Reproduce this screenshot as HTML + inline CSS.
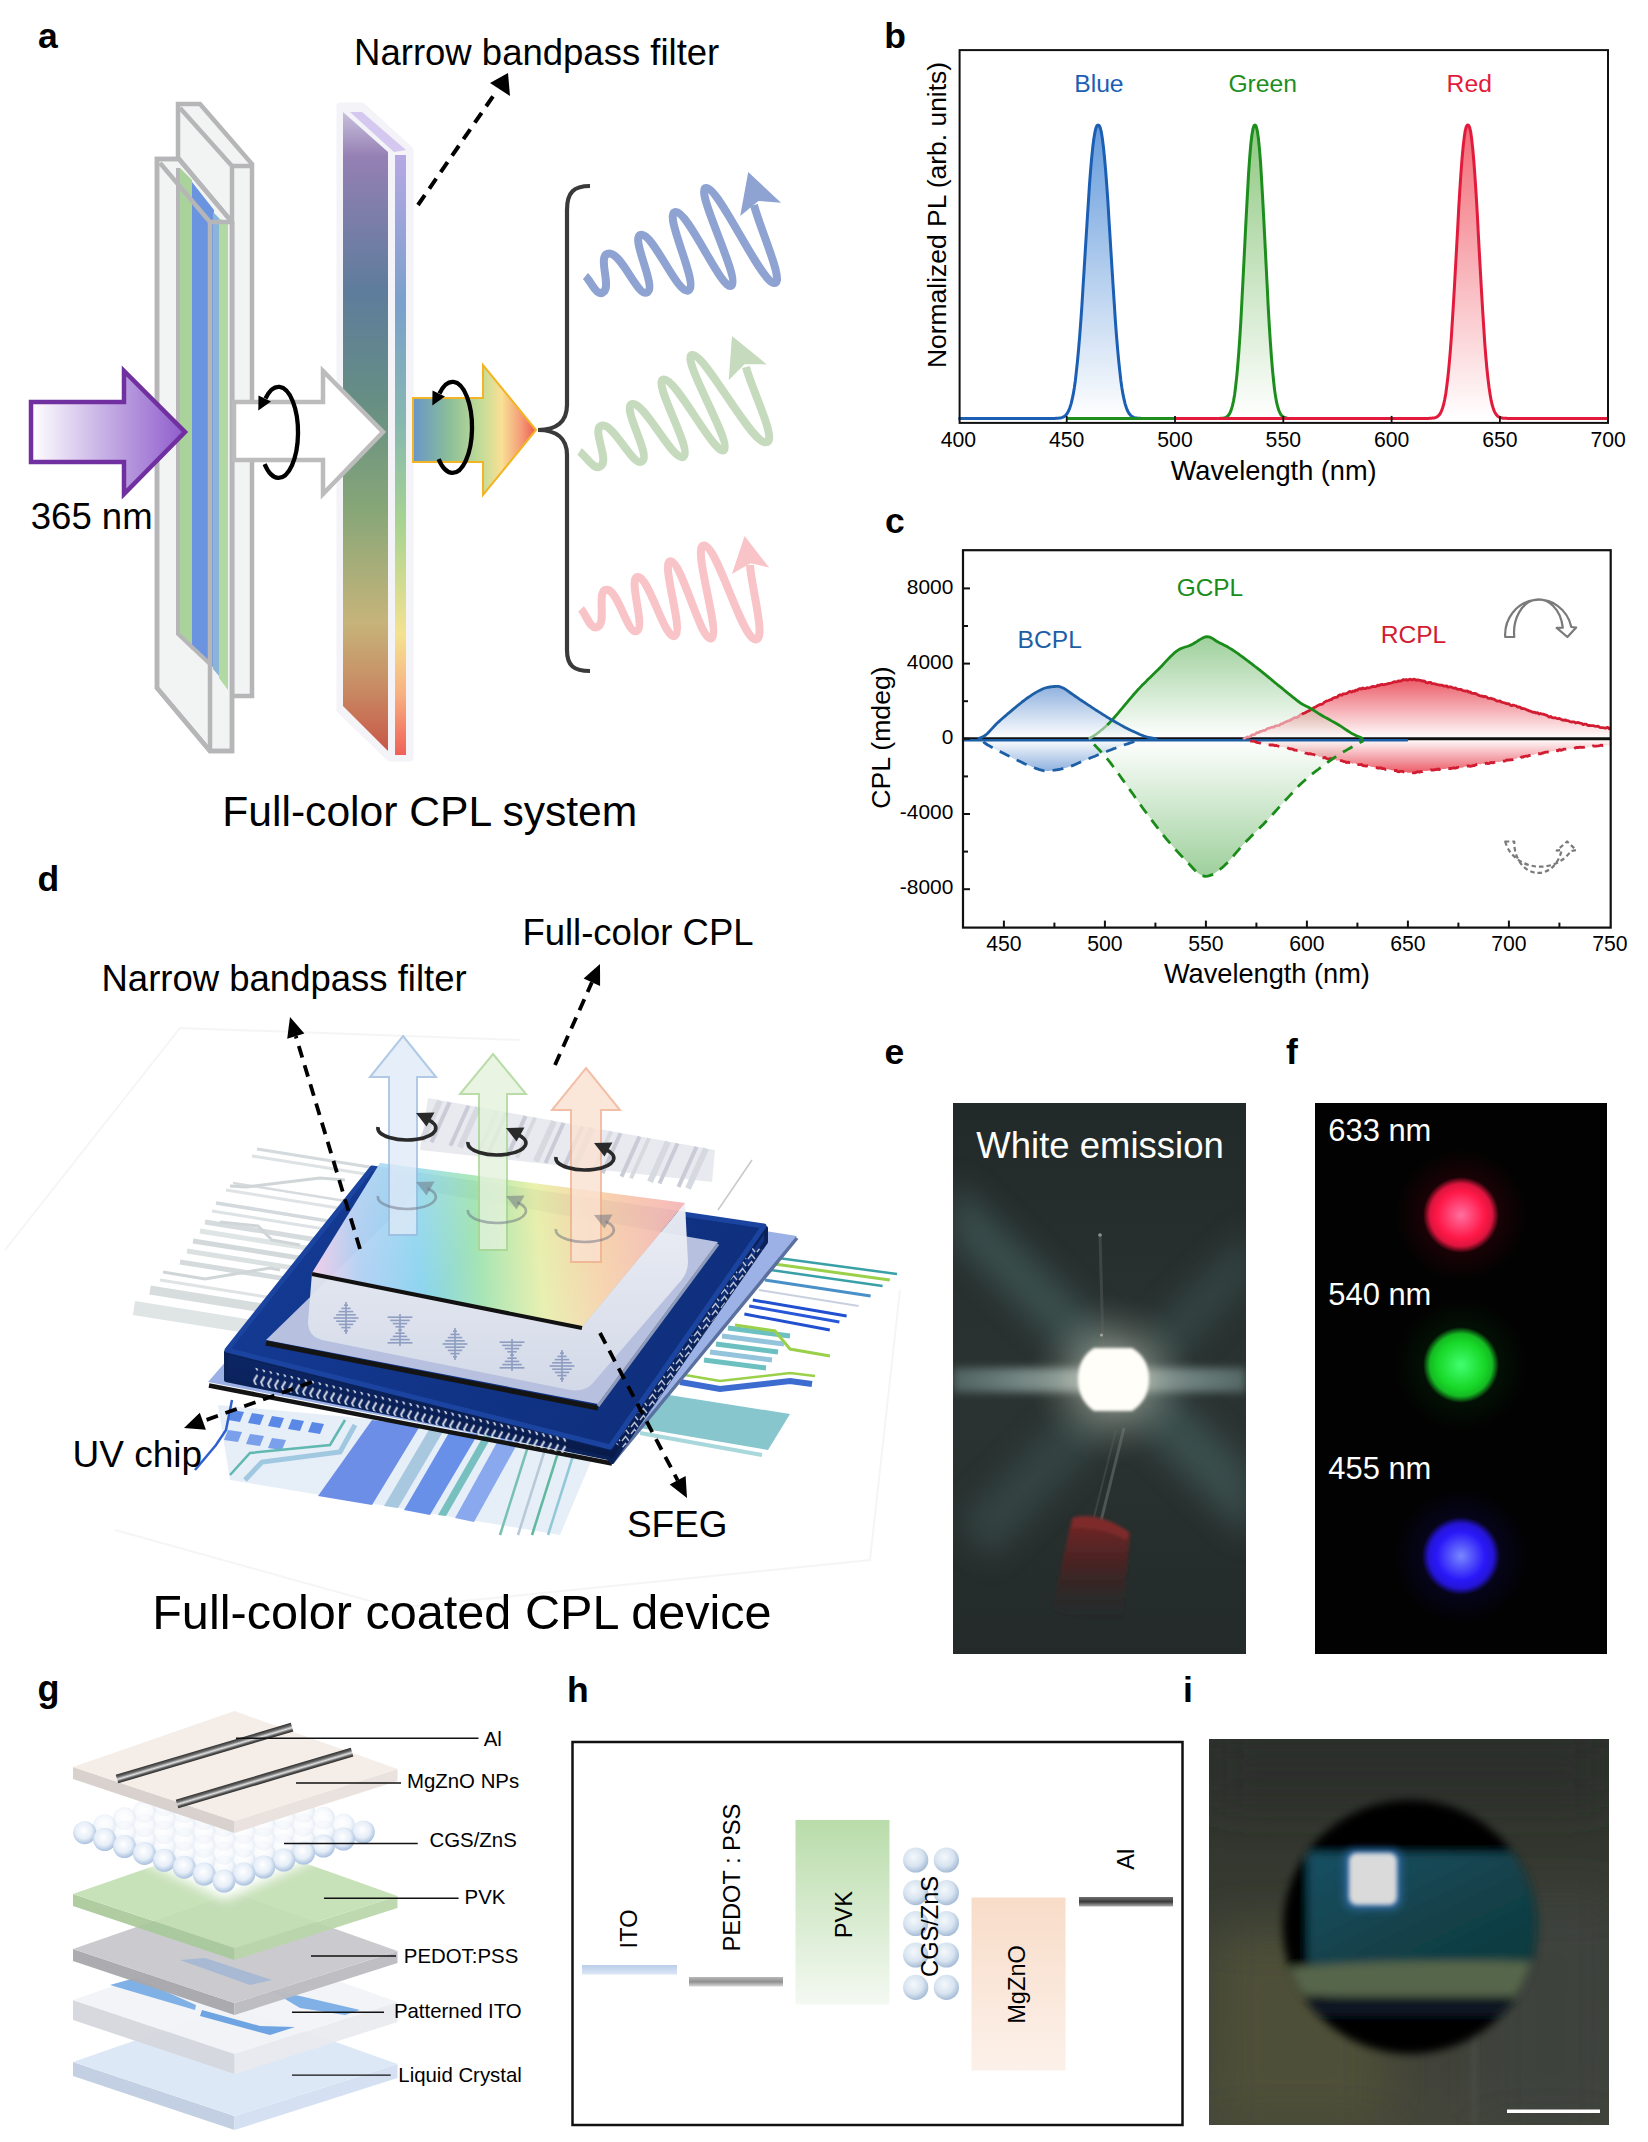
<!DOCTYPE html>
<html><head><meta charset="utf-8"><title>Full-color CPL figure</title>
<style>html,body{margin:0;padding:0;background:#fff;}svg{display:block;}
text{font-family:"Liberation Sans",Arial,sans-serif;}</style></head>
<body><svg width="1648" height="2142" viewBox="0 0 1648 2142">
<rect width="1648" height="2142" fill="#fff"/>
<defs><linearGradient id="purp" x1="0" y1="0" x2="1" y2="0"><stop offset="0" stop-color="#ffffff"/><stop offset="0.45" stop-color="#c9b4e6"/><stop offset="1" stop-color="#8f5ccc"/></linearGradient><linearGradient id="filt" gradientUnits="userSpaceOnUse" x1="0" y1="112" x2="0" y2="750"><stop offset="0" stop-color="#c8c0dc"/><stop offset="0.07" stop-color="#9580b4"/><stop offset="0.28" stop-color="#5e7c9c"/><stop offset="0.45" stop-color="#668e84"/><stop offset="0.62" stop-color="#86a678"/><stop offset="0.8" stop-color="#c6b47a"/><stop offset="0.9" stop-color="#c88c64"/><stop offset="1" stop-color="#c85848"/></linearGradient><linearGradient id="filt2" gradientUnits="userSpaceOnUse" x1="0" y1="150" x2="0" y2="755"><stop offset="0" stop-color="#b8a8e4"/><stop offset="0.25" stop-color="#7aa0cc"/><stop offset="0.45" stop-color="#86b8b0"/><stop offset="0.62" stop-color="#a8d490"/><stop offset="0.8" stop-color="#f4e290"/><stop offset="0.9" stop-color="#f8b080"/><stop offset="1" stop-color="#f06058"/></linearGradient><linearGradient id="carr" gradientUnits="userSpaceOnUse" x1="413" y1="0" x2="536" y2="0"><stop offset="0" stop-color="#6896c8"/><stop offset="0.3" stop-color="#8cbf98"/><stop offset="0.55" stop-color="#c2dc98"/><stop offset="0.72" stop-color="#f8e094"/><stop offset="0.88" stop-color="#f49c78"/><stop offset="1" stop-color="#ee5a50"/></linearGradient></defs><g stroke="#b6b6b8" stroke-width="4.5" stroke-linejoin="miter" fill="#f2f3f3">
<polygon points="178,104 200,104 252,164 252,696 232,696 178,636"/>
<polyline points="180,108 232,166 232,696" fill="none"/>
<line x1="232" y1="166" x2="250" y2="166"/>
</g>
<g stroke="#b6b6b8" stroke-width="4.5" fill="#f2f3f3">
<polygon points="157,159 179,159 232,222 232,751 210,751 157,688"/>
</g>
<polygon points="180,168 192,180 192,650 180,636" fill="#a9d39a"/>
<polygon points="192,182 214,210 214,668 192,648" fill="#6b94e0"/>
<polygon points="213,212 219,218 219,676 213,669" fill="#8ab4d8"/>
<polygon points="219,218 228,224 228,690 219,678" fill="#b2d9a4"/>
<polyline points="178,168 178,634 210,664" fill="none" stroke="#b6b6b8" stroke-width="4"/>
<g stroke="#b6b6b8" stroke-width="4.5" fill="none">
<polygon points="157,159 179,159 232,222 232,751 210,751 157,688"/>
<polyline points="160,163 210,222 210,751"/>
<line x1="210" y1="222" x2="231" y2="222"/>
</g>
<polygon points="31,402 124,402 124,371 185,432 124,494 124,462 31,462" fill="url(#purp)" stroke="#7030a0" stroke-width="4.5" stroke-linejoin="miter"/>
<polygon points="340,106 362,106 410,150 410,758 390,758 340,710" fill="#f4f3f8" stroke="#f4f3f8" stroke-width="7" stroke-linejoin="round"/>
<polygon points="343,112 388,152 388,751 343,706" fill="url(#filt)"/>
<polygon points="350,112 362,112 406,150 394,152" fill="#d4c8f0"/>
<rect x="395" y="155" width="11" height="600" fill="url(#filt2)"/>
<polygon points="234,402 323,402 323,371 383,432 323,494 323,460 234,460" fill="#fff" stroke="#bcbcbc" stroke-width="4.5" stroke-linejoin="miter"/>
<polygon points="413,398 483,398 483,365 536,430 483,495 483,462 413,462" fill="url(#carr)" stroke="#f2b424" stroke-width="2" stroke-linejoin="miter"/>
<path d="M264.6,464.2 A19.5,45.5 0 1 0 265.5,398.5" fill="none" stroke="#000" stroke-width="4.3"/><polygon points="258.5,395.5 258.3,410.5 271,401.4" fill="#000"/>
<path d="M438.6,459.2 A19.5,45.5 0 1 0 439.5,393.5" fill="none" stroke="#000" stroke-width="4.3"/><polygon points="432.5,390.5 432.3,405.5 445,396.4" fill="#000"/>
<path d="M590,186 C574,186 567,192 567,210 L567,405 C567,422 556,430 538,430 C556,430 567,438 567,455 L567,650 C567,666 574,671 590,671" fill="none" stroke="#3a3a3a" stroke-width="4.2"/>
<path d="M585.4,276.2 C591,280.8 596.8,298.3 604,291.5 C611.2,284.7 596.4,253.3 609.4,253.5 C622.4,253.7 637.8,297.8 647.4,292.2 C657,286.6 629,235.4 641.4,234.8 C653.8,234.2 678.6,297 688.8,290.2 C699,283.4 662.7,213.4 675.5,212 C688.3,210.6 722.3,292.7 731.5,285.5 C740.7,278.3 693.8,188.8 706.2,188 C718.7,187.2 758.7,277.7 773,282.8 C787.3,287.9 759.7,228.3 754,205" fill="none" stroke="#8ea3d2" stroke-width="8" stroke-linecap="butt" stroke-linejoin="round"/><polygon points="748.2,172 781,202.7 758.5,200.9 740.2,216" fill="#8ea3d2"/>
<path d="M579.5,451.7 C586.2,455.8 594.8,473 601.7,465.2 C608.6,457.4 590.4,426.8 602.5,425.6 C614.6,424.4 633.1,467.8 642.2,461.3 C651.3,454.8 620.3,405.4 632.7,404 C645.1,402.6 674.2,463.9 683.5,456.5 C692.8,449.1 651.6,381.4 663.7,379.5 C675.9,377.6 715.5,457.4 724,450 C732.5,442.6 680.1,357.3 692.2,355 C704.3,352.7 748.3,438.6 764.4,442.2 C780.5,445.8 751.5,389.6 746,367" fill="none" stroke="#c6dbbd" stroke-width="8" stroke-linecap="butt" stroke-linejoin="round"/><polygon points="732,336 766.8,364.4 744.5,364.2 728.7,380.3" fill="#c6dbbd"/>
<path d="M581,609 C586.3,614.2 590.7,632.1 598.6,626.3 C606.5,620.5 595.9,588.4 607.3,589.8 C618.7,591.2 627.4,634.8 636.7,631 C646,627.2 626.9,575.5 638.3,577 C649.7,578.5 665,640.6 674.8,635.9 C684.5,631.2 659.8,560.6 670.8,561.3 C681.8,562 701.3,643.1 711.3,638.3 C721.3,633.5 691.3,545.2 704.1,545.4 C716.9,545.6 740.3,633.1 754.1,639 C767.9,644.9 751.2,587.2 750,565" fill="none" stroke="#f9c4c8" stroke-width="8" stroke-linecap="butt" stroke-linejoin="round"/><polygon points="744.6,535.9 769.2,567.6 750.6,563.2 731.9,574" fill="#f9c4c8"/>
<line x1="418" y1="205" x2="496" y2="92" stroke="#000" stroke-width="4" stroke-dasharray="12,8"/>
<polygon points="508,73 510,96 490,83" fill="#000"/>
<text x="38" y="48.3" font-size="35.5" font-weight="bold">a</text>
<text x="354.1" y="65" font-size="36.5">Narrow bandpass filter</text>
<text x="30.8" y="529.1" font-size="36.5">365 nm</text>
<text x="222.3" y="826" font-size="42.6">Full-color CPL system</text>
<defs><linearGradient id="g_bl" gradientUnits="userSpaceOnUse" x1="0" y1="125" x2="0" y2="419"><stop offset="0" stop-color="#4a8ad6" stop-opacity="0.85"/><stop offset="1" stop-color="#4a8ad6" stop-opacity="0"/></linearGradient><linearGradient id="g_gr" gradientUnits="userSpaceOnUse" x1="0" y1="125" x2="0" y2="419"><stop offset="0" stop-color="#7cbf6c" stop-opacity="0.85"/><stop offset="1" stop-color="#7cbf6c" stop-opacity="0"/></linearGradient><linearGradient id="g_rd" gradientUnits="userSpaceOnUse" x1="0" y1="125" x2="0" y2="419"><stop offset="0" stop-color="#f0505e" stop-opacity="0.85"/><stop offset="1" stop-color="#f0505e" stop-opacity="0"/></linearGradient></defs><text x="884.2" y="47.7" font-size="35.5" font-weight="bold">b</text>
<path d="M1050.5,418.4 L1050.5,418.4 L1051.5,418.4 L1052.6,418.4 L1053.7,418.4 L1054.8,418.4 L1055.9,418.3 L1057,418.3 L1058,418.2 L1059.1,418.1 L1060.2,417.9 L1061.3,417.7 L1062.4,417.4 L1063.5,416.9 L1064.5,416.2 L1065.6,415.3 L1066.7,414.1 L1067.8,412.4 L1068.9,410.3 L1069.9,407.5 L1071,404.1 L1072.1,399.7 L1073.2,394.4 L1074.3,387.9 L1075.4,380.2 L1076.4,371.2 L1077.5,360.8 L1078.6,349 L1079.7,335.8 L1080.8,321.3 L1081.9,305.7 L1082.9,289 L1084,271.7 L1085.1,253.9 L1086.2,236.1 L1087.3,218.6 L1088.4,201.7 L1089.4,185.9 L1090.5,171.4 L1091.6,158.6 L1092.7,147.8 L1093.8,139 L1094.9,132.4 L1095.9,128 L1097,125.6 L1098.1,125 L1099.2,125.6 L1100.3,128 L1101.4,132.4 L1102.4,139 L1103.5,147.8 L1104.6,158.6 L1105.7,171.4 L1106.8,185.9 L1107.9,201.7 L1108.9,218.6 L1110,236.1 L1111.1,253.9 L1112.2,271.7 L1113.3,289 L1114.4,305.7 L1115.4,321.3 L1116.5,335.8 L1117.6,349 L1118.7,360.8 L1119.8,371.2 L1120.8,380.2 L1121.9,387.9 L1123,394.4 L1124.1,399.7 L1125.2,404.1 L1126.3,407.5 L1127.3,410.3 L1128.4,412.4 L1129.5,414.1 L1130.6,415.3 L1131.7,416.2 L1132.8,416.9 L1133.8,417.4 L1134.9,417.7 L1136,417.9 L1137.1,418.1 L1138.2,418.2 L1139.3,418.3 L1140.3,418.3 L1141.4,418.4 L1142.5,418.4 L1143.6,418.4 L1144.7,418.4 L1145.8,418.4 L1145.8,418.4 Z" fill="url(#g_bl)" transform="translate(0,0)"/>
<path d="M958.4,418.4 L959.5,418.4 L960.6,418.4 L961.6,418.4 L962.7,418.4 L963.8,418.4 L964.9,418.4 L966,418.4 L967.1,418.4 L968.1,418.4 L969.2,418.4 L970.3,418.4 L971.4,418.4 L972.5,418.4 L973.6,418.4 L974.6,418.4 L975.7,418.4 L976.8,418.4 L977.9,418.4 L979,418.4 L980.1,418.4 L981.1,418.4 L982.2,418.4 L983.3,418.4 L984.4,418.4 L985.5,418.4 L986.6,418.4 L987.6,418.4 L988.7,418.4 L989.8,418.4 L990.9,418.4 L992,418.4 L993.1,418.4 L994.1,418.4 L995.2,418.4 L996.3,418.4 L997.4,418.4 L998.5,418.4 L999.6,418.4 L1000.6,418.4 L1001.7,418.4 L1002.8,418.4 L1003.9,418.4 L1005,418.4 L1006.1,418.4 L1007.1,418.4 L1008.2,418.4 L1009.3,418.4 L1010.4,418.4 L1011.5,418.4 L1012.5,418.4 L1013.6,418.4 L1014.7,418.4 L1015.8,418.4 L1016.9,418.4 L1018,418.4 L1019,418.4 L1020.1,418.4 L1021.2,418.4 L1022.3,418.4 L1023.4,418.4 L1024.5,418.4 L1025.5,418.4 L1026.6,418.4 L1027.7,418.4 L1028.8,418.4 L1029.9,418.4 L1031,418.4 L1032,418.4 L1033.1,418.4 L1034.2,418.4 L1035.3,418.4 L1036.4,418.4 L1037.5,418.4 L1038.5,418.4 L1039.6,418.4 L1040.7,418.4 L1041.8,418.4 L1042.9,418.4 L1044,418.4 L1045,418.4 L1046.1,418.4 L1047.2,418.4 L1048.3,418.4 L1049.4,418.4 L1050.5,418.4 L1051.5,418.4 L1052.6,418.4 L1053.7,418.4 L1054.8,418.4 L1055.9,418.3 L1057,418.3 L1058,418.2 L1059.1,418.1 L1060.2,417.9 L1061.3,417.7 L1062.4,417.4 L1063.5,416.9 L1064.5,416.2 L1065.6,415.3 L1066.7,414.1 L1067.8,412.4 L1068.9,410.3 L1069.9,407.5 L1071,404.1 L1072.1,399.7 L1073.2,394.4 L1074.3,387.9 L1075.4,380.2 L1076.4,371.2 L1077.5,360.8 L1078.6,349 L1079.7,335.8 L1080.8,321.3 L1081.9,305.7 L1082.9,289 L1084,271.7 L1085.1,253.9 L1086.2,236.1 L1087.3,218.6 L1088.4,201.7 L1089.4,185.9 L1090.5,171.4 L1091.6,158.6 L1092.7,147.8 L1093.8,139 L1094.9,132.4 L1095.9,128 L1097,125.6 L1098.1,125 L1099.2,125.6 L1100.3,128 L1101.4,132.4 L1102.4,139 L1103.5,147.8 L1104.6,158.6 L1105.7,171.4 L1106.8,185.9 L1107.9,201.7 L1108.9,218.6 L1110,236.1 L1111.1,253.9 L1112.2,271.7 L1113.3,289 L1114.4,305.7 L1115.4,321.3 L1116.5,335.8 L1117.6,349 L1118.7,360.8 L1119.8,371.2 L1120.8,380.2 L1121.9,387.9 L1123,394.4 L1124.1,399.7 L1125.2,404.1 L1126.3,407.5 L1127.3,410.3 L1128.4,412.4 L1129.5,414.1 L1130.6,415.3 L1131.7,416.2 L1132.8,416.9 L1133.8,417.4 L1134.9,417.7 L1136,417.9 L1137.1,418.1 L1138.2,418.2 L1139.3,418.3 L1140.3,418.3 L1141.4,418.4 L1142.5,418.4 L1143.6,418.4 L1144.7,418.4 L1145.8,418.4 L1146.8,418.4 L1147.9,418.4 L1149,418.4 L1150.1,418.4 L1151.2,418.4 L1152.3,418.4 L1153.3,418.4 L1154.4,418.4 L1155.5,418.4 L1156.6,418.4 L1157.7,418.4 L1158.8,418.4 L1159.8,418.4 L1160.9,418.4 L1162,418.4 L1163.1,418.4 L1164.2,418.4 L1165.3,418.4 L1166.3,418.4 L1167.4,418.4 L1168.5,418.4 L1169.6,418.4 L1170.7,418.4 L1171.8,418.4 L1172.8,418.4 L1173.9,418.4 L1175,418.4 L1176.1,418.4 L1177.2,418.4 L1178.2,418.4 L1179.3,418.4" fill="none" stroke="#1b5fb5" stroke-width="3" stroke-linejoin="round"/>
<path d="M1216.2,418.4 L1216.2,418.4 L1217.2,418.4 L1218.3,418.4 L1219.4,418.4 L1220.5,418.3 L1221.6,418.3 L1222.7,418.2 L1223.7,418 L1224.8,417.7 L1225.9,417.3 L1227,416.7 L1228.1,415.7 L1229.2,414.3 L1230.2,412.4 L1231.3,409.6 L1232.4,405.9 L1233.5,401 L1234.6,394.7 L1235.6,386.7 L1236.7,376.8 L1237.8,364.9 L1238.9,350.9 L1240,334.8 L1241.1,316.7 L1242.1,297 L1243.2,276 L1244.3,254.3 L1245.4,232.4 L1246.5,211.2 L1247.6,191.1 L1248.6,173 L1249.7,157.3 L1250.8,144.5 L1251.9,135 L1253,128.7 L1254.1,125.6 L1255.1,125 L1256.2,126.5 L1257.3,130.9 L1258.4,138.4 L1259.5,149.3 L1260.6,163.2 L1261.6,180 L1262.7,198.9 L1263.8,219.6 L1264.9,241.2 L1266,263 L1267.1,284.5 L1268.1,305 L1269.2,324.1 L1270.3,341.4 L1271.4,356.7 L1272.5,369.9 L1273.6,381 L1274.6,390.1 L1275.7,397.4 L1276.8,403.2 L1277.9,407.5 L1279,410.8 L1280.1,413.2 L1281.1,414.9 L1282.2,416.1 L1283.3,416.9 L1284.4,417.5 L1285.5,417.8 L1286.5,418.1 L1287.6,418.2 L1287.6,418.4 Z" fill="url(#g_gr)" transform="translate(0,0)"/>
<path d="M1066.7,418.4 L1067.8,418.4 L1068.9,418.4 L1069.9,418.4 L1071,418.4 L1072.1,418.4 L1073.2,418.4 L1074.3,418.4 L1075.4,418.4 L1076.4,418.4 L1077.5,418.4 L1078.6,418.4 L1079.7,418.4 L1080.8,418.4 L1081.9,418.4 L1082.9,418.4 L1084,418.4 L1085.1,418.4 L1086.2,418.4 L1087.3,418.4 L1088.4,418.4 L1089.4,418.4 L1090.5,418.4 L1091.6,418.4 L1092.7,418.4 L1093.8,418.4 L1094.9,418.4 L1095.9,418.4 L1097,418.4 L1098.1,418.4 L1099.2,418.4 L1100.3,418.4 L1101.4,418.4 L1102.4,418.4 L1103.5,418.4 L1104.6,418.4 L1105.7,418.4 L1106.8,418.4 L1107.9,418.4 L1108.9,418.4 L1110,418.4 L1111.1,418.4 L1112.2,418.4 L1113.3,418.4 L1114.4,418.4 L1115.4,418.4 L1116.5,418.4 L1117.6,418.4 L1118.7,418.4 L1119.8,418.4 L1120.8,418.4 L1121.9,418.4 L1123,418.4 L1124.1,418.4 L1125.2,418.4 L1126.3,418.4 L1127.3,418.4 L1128.4,418.4 L1129.5,418.4 L1130.6,418.4 L1131.7,418.4 L1132.8,418.4 L1133.8,418.4 L1134.9,418.4 L1136,418.4 L1137.1,418.4 L1138.2,418.4 L1139.3,418.4 L1140.3,418.4 L1141.4,418.4 L1142.5,418.4 L1143.6,418.4 L1144.7,418.4 L1145.8,418.4 L1146.8,418.4 L1147.9,418.4 L1149,418.4 L1150.1,418.4 L1151.2,418.4 L1152.3,418.4 L1153.3,418.4 L1154.4,418.4 L1155.5,418.4 L1156.6,418.4 L1157.7,418.4 L1158.8,418.4 L1159.8,418.4 L1160.9,418.4 L1162,418.4 L1163.1,418.4 L1164.2,418.4 L1165.3,418.4 L1166.3,418.4 L1167.4,418.4 L1168.5,418.4 L1169.6,418.4 L1170.7,418.4 L1171.8,418.4 L1172.8,418.4 L1173.9,418.4 L1175,418.4 L1176.1,418.4 L1177.2,418.4 L1178.2,418.4 L1179.3,418.4 L1180.4,418.4 L1181.5,418.4 L1182.6,418.4 L1183.7,418.4 L1184.7,418.4 L1185.8,418.4 L1186.9,418.4 L1188,418.4 L1189.1,418.4 L1190.2,418.4 L1191.2,418.4 L1192.3,418.4 L1193.4,418.4 L1194.5,418.4 L1195.6,418.4 L1196.7,418.4 L1197.7,418.4 L1198.8,418.4 L1199.9,418.4 L1201,418.4 L1202.1,418.4 L1203.2,418.4 L1204.2,418.4 L1205.3,418.4 L1206.4,418.4 L1207.5,418.4 L1208.6,418.4 L1209.7,418.4 L1210.7,418.4 L1211.8,418.4 L1212.9,418.4 L1214,418.4 L1215.1,418.4 L1216.2,418.4 L1217.2,418.4 L1218.3,418.4 L1219.4,418.4 L1220.5,418.3 L1221.6,418.3 L1222.7,418.2 L1223.7,418 L1224.8,417.7 L1225.9,417.3 L1227,416.7 L1228.1,415.7 L1229.2,414.3 L1230.2,412.4 L1231.3,409.6 L1232.4,405.9 L1233.5,401 L1234.6,394.7 L1235.6,386.7 L1236.7,376.8 L1237.8,364.9 L1238.9,350.9 L1240,334.8 L1241.1,316.7 L1242.1,297 L1243.2,276 L1244.3,254.3 L1245.4,232.4 L1246.5,211.2 L1247.6,191.1 L1248.6,173 L1249.7,157.3 L1250.8,144.5 L1251.9,135 L1253,128.7 L1254.1,125.6 L1255.1,125 L1256.2,126.5 L1257.3,130.9 L1258.4,138.4 L1259.5,149.3 L1260.6,163.2 L1261.6,180 L1262.7,198.9 L1263.8,219.6 L1264.9,241.2 L1266,263 L1267.1,284.5 L1268.1,305 L1269.2,324.1 L1270.3,341.4 L1271.4,356.7 L1272.5,369.9 L1273.6,381 L1274.6,390.1 L1275.7,397.4 L1276.8,403.2 L1277.9,407.5 L1279,410.8 L1280.1,413.2 L1281.1,414.9 L1282.2,416.1 L1283.3,416.9 L1284.4,417.5 L1285.5,417.8 L1286.5,418.1 L1287.6,418.2" fill="none" stroke="#1d8e1d" stroke-width="3" stroke-linejoin="round"/>
<path d="M1425.2,418.4 L1425.2,418.4 L1426.3,418.4 L1427.3,418.4 L1428.4,418.4 L1429.5,418.3 L1430.6,418.3 L1431.7,418.2 L1432.8,418.1 L1433.8,418 L1434.9,417.7 L1436,417.3 L1437.1,416.8 L1438.2,416 L1439.3,414.8 L1440.3,413.3 L1441.4,411.1 L1442.5,408.2 L1443.6,404.5 L1444.7,399.6 L1445.8,393.5 L1446.8,386 L1447.9,377 L1449,366.2 L1450.1,353.6 L1451.2,339.3 L1452.2,323.4 L1453.3,305.9 L1454.4,287.3 L1455.5,267.7 L1456.6,247.8 L1457.7,227.9 L1458.7,208.6 L1459.8,190.4 L1460.9,173.8 L1462,159.2 L1463.1,147.1 L1464.2,137.6 L1465.2,130.8 L1466.3,126.7 L1467.4,125.1 L1468.5,125.3 L1469.6,127.3 L1470.7,131.9 L1471.7,139.3 L1472.8,149.3 L1473.9,162 L1475,177 L1476.1,193.9 L1477.2,212.4 L1478.2,231.8 L1479.3,251.8 L1480.4,271.7 L1481.5,291.1 L1482.6,309.5 L1483.7,326.7 L1484.7,342.3 L1485.8,356.3 L1486.9,368.5 L1488,378.9 L1489.1,387.7 L1490.2,394.9 L1491.2,400.7 L1492.3,405.3 L1493.4,408.9 L1494.5,411.6 L1495.6,413.6 L1496.7,415.1 L1497.7,416.2 L1498.8,416.9 L1499.9,417.4 L1501,417.8 L1502.1,418 L1503.1,418.2 L1504.2,418.3 L1505.3,418.3 L1506.4,418.3 L1507.5,418.4 L1508.6,418.4 L1509.6,418.4 L1509.6,418.4 Z" fill="url(#g_rd)" transform="translate(0,0)"/>
<path d="M1175,418.4 L1176.1,418.4 L1177.2,418.4 L1178.2,418.4 L1179.3,418.4 L1180.4,418.4 L1181.5,418.4 L1182.6,418.4 L1183.7,418.4 L1184.7,418.4 L1185.8,418.4 L1186.9,418.4 L1188,418.4 L1189.1,418.4 L1190.2,418.4 L1191.2,418.4 L1192.3,418.4 L1193.4,418.4 L1194.5,418.4 L1195.6,418.4 L1196.7,418.4 L1197.7,418.4 L1198.8,418.4 L1199.9,418.4 L1201,418.4 L1202.1,418.4 L1203.2,418.4 L1204.2,418.4 L1205.3,418.4 L1206.4,418.4 L1207.5,418.4 L1208.6,418.4 L1209.7,418.4 L1210.7,418.4 L1211.8,418.4 L1212.9,418.4 L1214,418.4 L1215.1,418.4 L1216.2,418.4 L1217.2,418.4 L1218.3,418.4 L1219.4,418.4 L1220.5,418.4 L1221.6,418.4 L1222.7,418.4 L1223.7,418.4 L1224.8,418.4 L1225.9,418.4 L1227,418.4 L1228.1,418.4 L1229.2,418.4 L1230.2,418.4 L1231.3,418.4 L1232.4,418.4 L1233.5,418.4 L1234.6,418.4 L1235.6,418.4 L1236.7,418.4 L1237.8,418.4 L1238.9,418.4 L1240,418.4 L1241.1,418.4 L1242.1,418.4 L1243.2,418.4 L1244.3,418.4 L1245.4,418.4 L1246.5,418.4 L1247.6,418.4 L1248.6,418.4 L1249.7,418.4 L1250.8,418.4 L1251.9,418.4 L1253,418.4 L1254.1,418.4 L1255.1,418.4 L1256.2,418.4 L1257.3,418.4 L1258.4,418.4 L1259.5,418.4 L1260.6,418.4 L1261.6,418.4 L1262.7,418.4 L1263.8,418.4 L1264.9,418.4 L1266,418.4 L1267.1,418.4 L1268.1,418.4 L1269.2,418.4 L1270.3,418.4 L1271.4,418.4 L1272.5,418.4 L1273.6,418.4 L1274.6,418.4 L1275.7,418.4 L1276.8,418.4 L1277.9,418.4 L1279,418.4 L1280.1,418.4 L1281.1,418.4 L1282.2,418.4 L1283.3,418.4 L1284.4,418.4 L1285.5,418.4 L1286.5,418.4 L1287.6,418.4 L1288.7,418.4 L1289.8,418.4 L1290.9,418.4 L1292,418.4 L1293,418.4 L1294.1,418.4 L1295.2,418.4 L1296.3,418.4 L1297.4,418.4 L1298.5,418.4 L1299.5,418.4 L1300.6,418.4 L1301.7,418.4 L1302.8,418.4 L1303.9,418.4 L1305,418.4 L1306,418.4 L1307.1,418.4 L1308.2,418.4 L1309.3,418.4 L1310.4,418.4 L1311.5,418.4 L1312.5,418.4 L1313.6,418.4 L1314.7,418.4 L1315.8,418.4 L1316.9,418.4 L1318,418.4 L1319,418.4 L1320.1,418.4 L1321.2,418.4 L1322.3,418.4 L1323.4,418.4 L1324.5,418.4 L1325.5,418.4 L1326.6,418.4 L1327.7,418.4 L1328.8,418.4 L1329.9,418.4 L1331,418.4 L1332,418.4 L1333.1,418.4 L1334.2,418.4 L1335.3,418.4 L1336.4,418.4 L1337.5,418.4 L1338.5,418.4 L1339.6,418.4 L1340.7,418.4 L1341.8,418.4 L1342.9,418.4 L1343.9,418.4 L1345,418.4 L1346.1,418.4 L1347.2,418.4 L1348.3,418.4 L1349.4,418.4 L1350.4,418.4 L1351.5,418.4 L1352.6,418.4 L1353.7,418.4 L1354.8,418.4 L1355.9,418.4 L1356.9,418.4 L1358,418.4 L1359.1,418.4 L1360.2,418.4 L1361.3,418.4 L1362.4,418.4 L1363.4,418.4 L1364.5,418.4 L1365.6,418.4 L1366.7,418.4 L1367.8,418.4 L1368.9,418.4 L1369.9,418.4 L1371,418.4 L1372.1,418.4 L1373.2,418.4 L1374.3,418.4 L1375.4,418.4 L1376.4,418.4 L1377.5,418.4 L1378.6,418.4 L1379.7,418.4 L1380.8,418.4 L1381.9,418.4 L1382.9,418.4 L1384,418.4 L1385.1,418.4 L1386.2,418.4 L1387.3,418.4 L1388.4,418.4 L1389.4,418.4 L1390.5,418.4 L1391.6,418.4 L1392.7,418.4 L1393.8,418.4 L1394.8,418.4 L1395.9,418.4 L1397,418.4 L1398.1,418.4 L1399.2,418.4 L1400.3,418.4 L1401.3,418.4 L1402.4,418.4 L1403.5,418.4 L1404.6,418.4 L1405.7,418.4 L1406.8,418.4 L1407.8,418.4 L1408.9,418.4 L1410,418.4 L1411.1,418.4 L1412.2,418.4 L1413.3,418.4 L1414.3,418.4 L1415.4,418.4 L1416.5,418.4 L1417.6,418.4 L1418.7,418.4 L1419.8,418.4 L1420.8,418.4 L1421.9,418.4 L1423,418.4 L1424.1,418.4 L1425.2,418.4 L1426.3,418.4 L1427.3,418.4 L1428.4,418.4 L1429.5,418.3 L1430.6,418.3 L1431.7,418.2 L1432.8,418.1 L1433.8,418 L1434.9,417.7 L1436,417.3 L1437.1,416.8 L1438.2,416 L1439.3,414.8 L1440.3,413.3 L1441.4,411.1 L1442.5,408.2 L1443.6,404.5 L1444.7,399.6 L1445.8,393.5 L1446.8,386 L1447.9,377 L1449,366.2 L1450.1,353.6 L1451.2,339.3 L1452.2,323.4 L1453.3,305.9 L1454.4,287.3 L1455.5,267.7 L1456.6,247.8 L1457.7,227.9 L1458.7,208.6 L1459.8,190.4 L1460.9,173.8 L1462,159.2 L1463.1,147.1 L1464.2,137.6 L1465.2,130.8 L1466.3,126.7 L1467.4,125.1 L1468.5,125.3 L1469.6,127.3 L1470.7,131.9 L1471.7,139.3 L1472.8,149.3 L1473.9,162 L1475,177 L1476.1,193.9 L1477.2,212.4 L1478.2,231.8 L1479.3,251.8 L1480.4,271.7 L1481.5,291.1 L1482.6,309.5 L1483.7,326.7 L1484.7,342.3 L1485.8,356.3 L1486.9,368.5 L1488,378.9 L1489.1,387.7 L1490.2,394.9 L1491.2,400.7 L1492.3,405.3 L1493.4,408.9 L1494.5,411.6 L1495.6,413.6 L1496.7,415.1 L1497.7,416.2 L1498.8,416.9 L1499.9,417.4 L1501,417.8 L1502.1,418 L1503.1,418.2 L1504.2,418.3 L1505.3,418.3 L1506.4,418.3 L1507.5,418.4 L1508.6,418.4 L1509.6,418.4 L1510.7,418.4 L1511.8,418.4 L1512.9,418.4 L1514,418.4 L1515.1,418.4 L1516.1,418.4 L1517.2,418.4 L1518.3,418.4 L1519.4,418.4 L1520.5,418.4 L1521.6,418.4 L1522.6,418.4 L1523.7,418.4 L1524.8,418.4 L1525.9,418.4 L1527,418.4 L1528.1,418.4 L1529.1,418.4 L1530.2,418.4 L1531.3,418.4 L1532.4,418.4 L1533.5,418.4 L1534.6,418.4 L1535.6,418.4 L1536.7,418.4 L1537.8,418.4 L1538.9,418.4 L1540,418.4 L1541.1,418.4 L1542.1,418.4 L1543.2,418.4 L1544.3,418.4 L1545.4,418.4 L1546.5,418.4 L1547.6,418.4 L1548.6,418.4 L1549.7,418.4 L1550.8,418.4 L1551.9,418.4 L1553,418.4 L1554,418.4 L1555.1,418.4 L1556.2,418.4 L1557.3,418.4 L1558.4,418.4 L1559.5,418.4 L1560.5,418.4 L1561.6,418.4 L1562.7,418.4 L1563.8,418.4 L1564.9,418.4 L1566,418.4 L1567,418.4 L1568.1,418.4 L1569.2,418.4 L1570.3,418.4 L1571.4,418.4 L1572.5,418.4 L1573.5,418.4 L1574.6,418.4 L1575.7,418.4 L1576.8,418.4 L1577.9,418.4 L1579,418.4 L1580,418.4 L1581.1,418.4 L1582.2,418.4 L1583.3,418.4 L1584.4,418.4 L1585.5,418.4 L1586.5,418.4 L1587.6,418.4 L1588.7,418.4 L1589.8,418.4 L1590.9,418.4 L1592,418.4 L1593,418.4 L1594.1,418.4 L1595.2,418.4 L1596.3,418.4 L1597.4,418.4 L1598.5,418.4 L1599.5,418.4 L1600.6,418.4 L1601.7,418.4 L1602.8,418.4 L1603.9,418.4 L1605,418.4 L1606,418.4 L1607.1,418.4 L1608.2,418.4" fill="none" stroke="#e21b3c" stroke-width="3" stroke-linejoin="round"/>
<rect x="959.6" y="50.1" width="648.4" height="372.8" fill="none" stroke="#111" stroke-width="2"/>
<text x="958.4" y="446.8" font-size="21.2" text-anchor="middle">400</text>
<line x1="1066.7" y1="422.9" x2="1066.7" y2="415.9" stroke="#111" stroke-width="1.8"/>
<text x="1066.7" y="446.8" font-size="21.2" text-anchor="middle">450</text>
<line x1="1175" y1="422.9" x2="1175" y2="415.9" stroke="#111" stroke-width="1.8"/>
<text x="1175" y="446.8" font-size="21.2" text-anchor="middle">500</text>
<line x1="1283.3" y1="422.9" x2="1283.3" y2="415.9" stroke="#111" stroke-width="1.8"/>
<text x="1283.3" y="446.8" font-size="21.2" text-anchor="middle">550</text>
<line x1="1391.6" y1="422.9" x2="1391.6" y2="415.9" stroke="#111" stroke-width="1.8"/>
<text x="1391.6" y="446.8" font-size="21.2" text-anchor="middle">600</text>
<line x1="1499.9" y1="422.9" x2="1499.9" y2="415.9" stroke="#111" stroke-width="1.8"/>
<text x="1499.9" y="446.8" font-size="21.2" text-anchor="middle">650</text>
<text x="1608.2" y="446.8" font-size="21.2" text-anchor="middle">700</text>
<text x="1170.7" y="479.5" font-size="27.2">Wavelength (nm)</text>
<text transform="translate(946,368) rotate(-90)" font-size="26.45">Normalized PL (arb. units)</text>
<text x="1074.2" y="91.7" font-size="24.7" fill="#1b5fb5">Blue</text>
<text x="1228.4" y="91.7" font-size="24.7" fill="#1d8e1d">Green</text>
<text x="1446.6" y="91.7" font-size="24.7" fill="#e21b3c">Red</text>
<defs><linearGradient id="cbp" gradientUnits="userSpaceOnUse" x1="0" y1="686.6" x2="0" y2="738.8"><stop offset="0" stop-color="#6b98d4" stop-opacity="0.75"/><stop offset="1" stop-color="#6b98d4" stop-opacity="0"/></linearGradient><linearGradient id="cbn" gradientUnits="userSpaceOnUse" x1="0" y1="770.8" x2="0" y2="738.8"><stop offset="0" stop-color="#6b98d4" stop-opacity="0.75"/><stop offset="1" stop-color="#6b98d4" stop-opacity="0"/></linearGradient><linearGradient id="cgp" gradientUnits="userSpaceOnUse" x1="0" y1="636.7" x2="0" y2="738.8"><stop offset="0" stop-color="#7dc07a" stop-opacity="0.75"/><stop offset="1" stop-color="#7dc07a" stop-opacity="0"/></linearGradient><linearGradient id="cgn" gradientUnits="userSpaceOnUse" x1="0" y1="876" x2="0" y2="738.8"><stop offset="0" stop-color="#7dc07a" stop-opacity="0.75"/><stop offset="1" stop-color="#7dc07a" stop-opacity="0"/></linearGradient><linearGradient id="crp" gradientUnits="userSpaceOnUse" x1="0" y1="679.3" x2="0" y2="738.8"><stop offset="0" stop-color="#e8404e" stop-opacity="0.85"/><stop offset="1" stop-color="#e8404e" stop-opacity="0"/></linearGradient><linearGradient id="crn" gradientUnits="userSpaceOnUse" x1="0" y1="772.5" x2="0" y2="738.8"><stop offset="0" stop-color="#e8404e" stop-opacity="0.85"/><stop offset="1" stop-color="#e8404e" stop-opacity="0"/></linearGradient></defs><path d="M1243.1,738.8 L1243.1,739.1 L1243.9,738.4 L1244.9,738.2 L1246.1,737.5 L1247.4,736.9 L1248.8,737.1 L1250.3,736.5 L1251.9,734.8 L1253.5,734.9 L1255.2,734.2 L1256.9,732.5 L1258.6,732.6 L1260.3,731.4 L1262,731.2 L1263.6,730.4 L1265.1,730.4 L1266.5,729.2 L1268,728.3 L1269.5,728.2 L1271,727.4 L1272.4,727 L1273.8,727.3 L1275.2,725.9 L1276.6,725.7 L1278,725.5 L1279.4,725.4 L1280.8,723.8 L1282.3,723.8 L1283.7,722.9 L1285.2,722 L1286.7,721.6 L1288,720.7 L1289.4,720.8 L1290.7,719.6 L1292.1,719.4 L1293.4,718.1 L1294.8,717.5 L1296.2,717.8 L1297.6,717 L1299,716.2 L1300.4,714.5 L1301.8,714.4 L1303.3,713.4 L1304.8,713 L1306.4,712 L1307.9,711.3 L1309.5,710.6 L1310.8,709.6 L1312.2,708.9 L1313.6,707.8 L1315,707.3 L1316.5,706.3 L1318,705.6 L1319.5,704.6 L1321,704.3 L1322.5,704.1 L1324.1,702.4 L1325.6,701.5 L1327.1,700.8 L1328.6,700.5 L1330.2,699.6 L1331.6,699.5 L1333.1,698 L1334.5,697.7 L1335.9,697.4 L1337.3,697.1 L1338.6,695.5 L1340.2,694.7 L1341.8,695.3 L1343.2,693.8 L1344.7,693.8 L1346.1,693.6 L1347.5,693 L1348.9,691.9 L1350.3,691.4 L1351.6,692.1 L1353,691 L1354.4,691.4 L1355.7,690.1 L1357.1,690.3 L1358.5,689.2 L1360,688.7 L1361.4,689 L1362.9,688 L1364.3,688.6 L1365.7,688.5 L1367.2,687.6 L1368.7,688 L1370.2,687.5 L1371.6,686.9 L1373.1,686.4 L1374.6,686.7 L1376.1,686.6 L1377.6,685.2 L1379.1,685.7 L1380.6,684.6 L1382.1,684.4 L1383.6,684.8 L1385,684.4 L1386.5,684.1 L1388,683.6 L1389.6,683.3 L1391.1,683 L1392.6,682.5 L1394.2,681.7 L1395.7,681.9 L1397.2,681.6 L1398.7,680.8 L1400.2,681.1 L1401.7,680.7 L1403.2,679.5 L1404.7,679.8 L1406.2,679.6 L1407.6,680.1 L1409.1,679.5 L1410.5,679.2 L1412,679.9 L1413.5,679.2 L1414.9,679.3 L1416.3,680.3 L1417.7,679.8 L1419.1,680.2 L1420.5,680.3 L1421.9,681 L1423.3,680.9 L1424.7,681.2 L1426.1,682.6 L1427.6,682.9 L1429.1,682.4 L1430.6,682.4 L1432.1,683.7 L1433.5,683.7 L1434.9,683.8 L1436.3,684.4 L1437.7,684.6 L1439.2,685 L1440.6,685.2 L1442.1,685.2 L1443.6,685.9 L1445.1,686.1 L1446.6,685.9 L1448.1,687.2 L1449.6,686.8 L1451.1,686.9 L1452.6,687.8 L1454,688.3 L1455.4,687.8 L1456.8,688.9 L1458.2,689.3 L1459.8,689.4 L1461.3,689.5 L1462.9,690.7 L1464.4,690.8 L1465.8,691.2 L1467.3,691 L1468.7,692 L1470.2,691.9 L1471.6,693.2 L1473.1,693.4 L1474.5,693.5 L1476,693.6 L1477.5,694.7 L1479.1,695.4 L1480.6,696.1 L1482,695.9 L1483.5,696.8 L1484.9,696.4 L1486.4,696.8 L1487.9,698.2 L1489.4,698.5 L1490.9,698.2 L1492.4,698.9 L1494,699.2 L1495.5,700.2 L1497,701 L1498.5,701.2 L1500,701 L1501.5,702.1 L1503,702.5 L1504.4,702.9 L1505.9,703.3 L1507.4,703.8 L1508.9,703.6 L1510.3,705.1 L1511.8,705.7 L1513.2,705 L1514.7,705.5 L1516.1,705.8 L1517.5,707 L1518.9,706.8 L1520.4,707.3 L1521.8,708.7 L1523.2,708.5 L1524.7,708.8 L1526.1,709.5 L1527.6,710.1 L1529.1,710.9 L1530.5,711.2 L1531.9,711.8 L1533.3,712.4 L1534.7,712.2 L1536.1,713 L1537.6,712.7 L1539,714.1 L1540.4,713.4 L1541.9,714.1 L1543.3,714.2 L1544.8,714.7 L1546.2,715.1 L1547.7,715.9 L1549.2,717.1 L1550.7,716.5 L1552.2,717.6 L1553.7,717.9 L1555.1,717.7 L1556.5,718.3 L1557.9,718.7 L1559.4,718.4 L1560.8,719.2 L1562.3,719.9 L1563.7,720.3 L1565.2,719.8 L1566.6,720.7 L1568.1,720.6 L1569.6,721.5 L1571.1,722 L1572.6,721.9 L1574.1,721.8 L1575.6,723 L1577.1,722.5 L1578.6,722.6 L1580.1,723.1 L1581.6,723.3 L1583.1,724.7 L1584.6,724.1 L1586.2,724.1 L1587.9,725.5 L1589.6,725.5 L1591.3,725.7 L1593,725.7 L1594.7,726.1 L1596.4,726.3 L1598.1,726.2 L1599.8,727.4 L1601.4,727.6 L1602.9,727.7 L1604.4,728 L1605.8,728.2 L1607.1,727.3 L1608.3,727.6 L1609.3,728.8 L1610.3,728.4 L1611.1,728.5 L1611.1,738.8 Z" fill="url(#crp)"/>
<path d="M1250.3,738.8 L1250.3,740.9 L1251.2,741.1 L1252.2,741.2 L1253.4,741.2 L1254.7,741.5 L1256.2,742.1 L1257.8,742.6 L1259.4,742.8 L1261.1,743.4 L1262.9,743.3 L1264.7,743.5 L1266.5,744.2 L1267.8,744.8 L1269.1,744.9 L1270.4,745 L1271.9,745 L1273.3,745 L1274.8,745.7 L1276.3,745.5 L1277.8,746 L1279.3,746.5 L1280.9,746.9 L1282.4,747 L1283.9,747.1 L1285.5,747.7 L1287,747.7 L1288.5,748.3 L1289.9,748.9 L1291.4,748.9 L1292.8,749.1 L1294.2,750.1 L1295.7,750.1 L1297.1,750.5 L1298.5,750.4 L1299.9,750.7 L1301.3,751.7 L1302.7,751.6 L1304.2,752.1 L1305.6,753.1 L1307,753.3 L1308.5,754 L1310,753.7 L1311.5,754.2 L1313,754.3 L1314.3,754.8 L1315.6,755.3 L1316.9,755.5 L1318.3,756 L1319.6,756.9 L1320.9,756.6 L1322.2,757.6 L1323.6,757.8 L1324.9,757.4 L1326.3,758.5 L1327.7,758.8 L1329.1,759.1 L1330.6,758.5 L1332.1,759.6 L1333.6,760.1 L1335.1,759.6 L1336.8,760.7 L1338.4,760.2 L1339.7,760.7 L1341,760.7 L1342.3,760.9 L1343.7,761.6 L1345.1,761.6 L1346.5,762.7 L1347.9,762.2 L1349.4,762.7 L1350.8,762.8 L1352.3,763.7 L1353.8,763.3 L1355.3,763.3 L1356.8,764.6 L1358.3,764.6 L1359.9,764.6 L1361.4,764.5 L1362.9,765.5 L1364.5,765.8 L1366,766 L1367.5,765.8 L1369,766 L1370.6,766.6 L1372.1,766.9 L1373.6,767.1 L1375,767.4 L1376.5,767.6 L1378,768.2 L1379.5,768 L1381,767.8 L1382.5,768.7 L1384.1,768.6 L1385.6,769.5 L1387.1,769.2 L1388.7,769.4 L1390.2,769.7 L1391.8,770.2 L1393.3,770.5 L1394.8,770.5 L1396.3,770.5 L1397.8,771.6 L1399.3,771.8 L1400.7,771.3 L1402.1,771.3 L1403.5,771.9 L1404.9,772.2 L1406.2,772 L1407.5,772.7 L1408.7,772.7 L1409.9,772.8 L1411.8,772.5 L1413.6,772.8 L1415.2,772.8 L1416.8,772.1 L1418.2,771.7 L1419.6,772.2 L1421,771.5 L1422.3,771.6 L1423.7,770.8 L1425,770.9 L1426.3,771 L1427.7,770.8 L1429.1,770.7 L1430.6,770 L1432.1,770 L1433.5,770.1 L1434.9,769.7 L1436.3,769.7 L1437.7,769 L1439.2,769.7 L1440.7,768.6 L1442.2,769.1 L1443.7,768.9 L1445.2,768.9 L1446.7,768.4 L1448.2,768.3 L1449.6,768.5 L1451.1,768.5 L1452.6,768.1 L1454,767.8 L1455.4,768.2 L1456.8,767.7 L1458.2,767.3 L1459.8,767.7 L1461.3,767.7 L1462.9,767.5 L1464.4,766.7 L1465.8,766.5 L1467.3,766 L1468.7,765.8 L1470.2,766.3 L1471.6,766.1 L1473.1,765.7 L1474.5,765.5 L1476,764.7 L1477.5,764.3 L1479.1,764 L1480.6,764.5 L1482,763.6 L1483.5,764 L1484.9,763.6 L1486.4,763.1 L1487.9,763.6 L1489.4,763.4 L1490.9,762.4 L1492.4,762.8 L1494,762.5 L1495.5,762.1 L1497,761.8 L1498.5,762.3 L1500,761.7 L1501.5,761.4 L1503,761.1 L1504.4,761.2 L1505.9,760.5 L1507.4,759.8 L1508.9,760.2 L1510.3,759.7 L1511.8,759.9 L1513.2,759.4 L1514.7,758.7 L1516.1,759 L1517.5,757.8 L1518.9,757.5 L1520.4,758.1 L1521.8,756.8 L1523.2,757.1 L1524.7,756.3 L1526.1,756 L1527.6,756.3 L1529.1,755.5 L1530.5,755.3 L1531.9,754.8 L1533.3,755.1 L1534.7,754.3 L1536.1,753.8 L1537.6,753.8 L1539,753.7 L1540.4,753.9 L1541.9,753.2 L1543.3,753 L1544.8,752.3 L1546.2,752.1 L1547.7,752 L1549.2,752.1 L1550.7,751.3 L1552.2,751.1 L1553.7,751.4 L1555.1,750.3 L1556.5,750.4 L1557.9,750.8 L1559.4,749.6 L1560.8,750.3 L1562.3,749.9 L1563.7,749.2 L1565.2,749.2 L1566.6,749 L1568.1,748.7 L1569.6,748.7 L1571.1,748.7 L1572.6,748.7 L1574.1,748.6 L1575.6,747.7 L1577.1,747.5 L1578.6,747.5 L1580.1,747.2 L1581.6,747.4 L1583.1,747.4 L1584.6,747.1 L1586.2,746.4 L1587.9,747.2 L1589.6,746.5 L1591.3,746.6 L1593,745.9 L1594.7,746.2 L1596.4,746.1 L1598.1,745.9 L1599.8,745.6 L1601.4,745.2 L1602.9,745.6 L1604.4,744.9 L1605.8,745.6 L1607.1,745.4 L1608.3,745.5 L1609.3,745.4 L1610.3,744.5 L1611.1,744.8 L1611.1,738.8 Z" fill="url(#crn)"/>
<path d="M1088.7,738.8 L1088.7,738.8 L1090.1,738 L1091.9,737 L1094,735.6 L1096.4,734.1 L1098.8,732.2 L1100.8,730.6 L1102.8,728.9 L1104.9,727.1 L1107.2,724.9 L1109.8,722.4 L1112.8,719.2 L1114.5,717.3 L1116.3,715.2 L1118.3,712.9 L1120.3,710.4 L1122.5,707.9 L1124.7,705.2 L1126.9,702.6 L1129.1,699.9 L1131.3,697.3 L1133.4,694.8 L1135.5,692.5 L1137.4,690.3 L1139.7,687.9 L1141.8,685.6 L1144,683.4 L1146.1,681.4 L1148.1,679.3 L1150.1,677.4 L1152.1,675.5 L1154.1,673.6 L1156.1,671.6 L1158,669.7 L1160.2,667.5 L1162.4,665.2 L1164.5,662.9 L1166.6,660.6 L1168.7,658.4 L1170.8,656.3 L1172.8,654.4 L1174.7,652.6 L1176.6,651.1 L1178.9,649.6 L1181,648.5 L1183.1,647.7 L1185.1,647 L1187.1,646.5 L1189.1,645.8 L1191.2,644.9 L1193.3,643.7 L1195.6,642.3 L1197.9,640.8 L1200.2,639.4 L1202.4,638.1 L1204.5,637.2 L1206.5,636.7 L1209,636.8 L1211.2,637.7 L1213.2,638.9 L1215.5,640.5 L1218,642 L1219.8,642.9 L1221.6,643.8 L1223.4,644.7 L1225.4,645.7 L1227.4,646.8 L1229.6,648.1 L1231.9,649.5 L1234.4,651.1 L1236.2,652.3 L1238.1,653.6 L1240,655.1 L1242.1,656.6 L1244.2,658.2 L1246.4,659.8 L1248.6,661.5 L1250.8,663.1 L1253,664.8 L1255.1,666.5 L1257.2,668.1 L1259.2,669.7 L1261.4,671.4 L1263.5,673.1 L1265.7,674.9 L1267.8,676.6 L1269.9,678.3 L1272,680.1 L1274,681.8 L1276.1,683.5 L1278,685.1 L1280,686.7 L1281.9,688.2 L1284.1,690 L1286.3,691.9 L1288.5,693.7 L1290.7,695.4 L1292.8,697.1 L1294.8,698.7 L1296.6,700.2 L1298.4,701.5 L1300,702.7 L1303,704.6 L1305.3,705.7 L1307.4,706.7 L1309.9,708 L1311.9,709.2 L1314,710.5 L1316.2,711.9 L1318.4,713.4 L1320.7,714.8 L1323.1,716.2 L1325.2,717.4 L1327.4,718.6 L1329.6,719.8 L1331.9,721.1 L1334.1,722.3 L1336.3,723.5 L1338.4,724.7 L1340.7,726.1 L1342.9,727.6 L1345.1,729.1 L1347.2,730.5 L1349.3,731.9 L1351.3,733.2 L1353.5,734.3 L1355.9,735.5 L1358.2,736.5 L1360.3,737.4 L1362.2,738.2 L1363.5,738.8 L1363.5,738.8 Z" fill="url(#cgp)"/>
<path d="M1094,738.8 L1094,744.4 L1095.3,745.8 L1097,747.6 L1099.1,749.8 L1101.4,752.3 L1103.8,754.9 L1106.2,757.6 L1108.5,760.4 L1110.5,762.9 L1112.4,765.5 L1114.4,768.1 L1116.4,770.9 L1118.5,773.8 L1120.6,776.8 L1122.8,779.9 L1125.1,783.1 L1127,785.7 L1129,788.5 L1131,791.4 L1133.1,794.3 L1135.1,797.3 L1137.3,800.3 L1139.4,803.3 L1141.5,806.3 L1143.6,809.2 L1145.7,812 L1147.8,814.8 L1149.9,817.6 L1151.9,820.4 L1154,823.2 L1156.1,825.9 L1158.2,828.6 L1160.3,831.3 L1162.3,833.9 L1164.3,836.4 L1166.3,838.8 L1168.5,841.4 L1170.6,843.9 L1172.7,846.3 L1174.7,848.6 L1176.7,850.9 L1178.8,853.1 L1180.8,855.3 L1182.8,857.4 L1184.9,859.5 L1187,861.7 L1189,863.9 L1191.1,866.2 L1193.2,868.5 L1195.2,870.6 L1197.3,872.5 L1199.3,874.1 L1201.4,875.3 L1203.5,876 L1205.5,876.3 L1207.5,876.1 L1209.5,875.7 L1211.5,874.9 L1213.5,873.9 L1215.6,872.6 L1217.7,871.1 L1219.8,869.5 L1222.1,867.7 L1224,866 L1226,864.1 L1228,862 L1230.1,859.8 L1232.2,857.4 L1234.3,854.9 L1236.4,852.4 L1238.6,849.9 L1240.6,847.5 L1242.7,845.2 L1244.7,843 L1246.8,840.8 L1248.9,838.7 L1251,836.6 L1253,834.6 L1255,832.6 L1257,830.7 L1259,828.7 L1261.1,826.6 L1263.2,824.5 L1265.3,822.3 L1267.3,820.2 L1269.4,817.9 L1271.5,815.6 L1273.7,813.2 L1275.9,810.8 L1278,808.4 L1280.2,806.1 L1282.2,803.8 L1284.2,801.6 L1286.1,799.5 L1287.9,797.6 L1290.4,794.9 L1292.7,792.5 L1294.7,790.2 L1296.7,788.1 L1298.6,786.1 L1300.7,784.1 L1302.9,782 L1304.9,780.2 L1307,778.3 L1309.2,776.5 L1311.4,774.7 L1313.6,772.9 L1315.9,771.2 L1318.1,769.5 L1320.2,767.8 L1322.4,766.2 L1324.5,764.6 L1326.7,763 L1328.8,761.5 L1330.9,760 L1333,758.5 L1335.1,757.1 L1337.2,755.7 L1339.3,754.4 L1341.4,753.1 L1343.6,751.8 L1345.7,750.6 L1347.8,749.4 L1349.8,748.2 L1351.6,747.2 L1353.4,746.2 L1355.9,744.8 L1358.3,743.4 L1360.4,742.3 L1362.2,741.4 L1363.5,740.7 L1363.5,738.8 Z" fill="url(#cgn)"/>
<path d="M977.6,738.8 L977.6,738.8 L979,738.3 L981,737.7 L983.3,736.6 L985.7,735 L987.7,733.2 L989.8,731 L992,728.6 L994.4,726 L997,723.3 L998.9,721.6 L1000.9,719.8 L1002.9,718 L1005.1,716.1 L1007.3,714.2 L1009.5,712.4 L1011.6,710.6 L1013.6,708.9 L1015.8,707.1 L1017.9,705.3 L1020,703.7 L1022,702 L1024.1,700.5 L1026.1,698.9 L1028.1,697.5 L1030.2,696.1 L1032.3,694.7 L1034.4,693.3 L1036.5,692.1 L1038.6,690.9 L1040.6,689.9 L1042.5,689 L1045.1,688 L1047.6,687.4 L1050,687 L1052.3,686.7 L1054.4,686.5 L1056.6,686.4 L1058.4,686.4 L1060.2,686.8 L1062.5,687.7 L1064.3,688.6 L1066.3,689.9 L1068.4,691.4 L1070.6,693 L1073,694.7 L1075.6,696.5 L1077.4,697.7 L1079.4,699.1 L1081.5,700.5 L1083.6,701.9 L1085.8,703.3 L1088,704.8 L1090.1,706.2 L1092.2,707.6 L1094.2,708.9 L1096.3,710.3 L1098.4,711.6 L1100.4,712.9 L1102.4,714.2 L1104.4,715.4 L1106.4,716.7 L1108.4,717.9 L1110.6,719.2 L1112.5,720.4 L1114.6,721.5 L1116.7,722.7 L1118.8,723.9 L1120.9,725.1 L1123,726.3 L1125.1,727.4 L1127.2,728.5 L1129.1,729.5 L1131.3,730.6 L1133.5,731.6 L1135.7,732.6 L1137.9,733.6 L1139.9,734.5 L1142,735.3 L1143.9,736.1 L1145.7,736.7 L1148.5,737.5 L1151.3,738 L1153.8,738.4 L1155.9,738.6 L1157.4,738.8 L1157.4,738.8 Z" fill="url(#cbp)"/>
<path d="M983.7,738.8 L983.7,741.6 L984.1,742.5 L987.7,745 L989.2,745.8 L990.9,746.7 L992.9,747.8 L995.1,748.9 L997.4,750.2 L999.9,751.4 L1002.4,752.7 L1004.9,754 L1007.3,755.2 L1009.6,756.4 L1011.7,757.5 L1013.6,758.4 L1016.1,759.7 L1018.4,760.8 L1020.6,761.8 L1022.6,762.8 L1024.5,763.7 L1026.4,764.5 L1028.3,765.3 L1030.2,766.1 L1032.3,766.9 L1034.4,767.8 L1036.5,768.6 L1038.5,769.3 L1040.5,769.9 L1042.4,770.4 L1044.3,770.8 L1046.4,771 L1048.4,770.9 L1050.4,770.8 L1052.4,770.5 L1054.4,770.2 L1056.4,769.8 L1058.5,769.5 L1060.6,769.1 L1062.8,768.6 L1065,768.1 L1067.3,767.4 L1069.8,766.6 L1071.7,765.9 L1073.7,765.1 L1075.8,764.2 L1077.9,763.3 L1080.1,762.3 L1082.3,761.4 L1084.5,760.4 L1086.7,759.5 L1088.7,758.7 L1090.8,757.8 L1092.8,757 L1094.9,756.2 L1097,755.3 L1099.1,754.5 L1101.1,753.7 L1103.1,752.9 L1104.9,752.2 L1107.1,751.3 L1109.2,750.5 L1111.2,749.7 L1113.2,748.9 L1115.1,748.2 L1117.1,747.4 L1119,746.7 L1121.1,746 L1123.3,745.2 L1125.4,744.5 L1127.5,743.8 L1129.6,743.1 L1131.5,742.5 L1133.2,741.9 L1135.8,741 L1138.1,740.2 L1140,739.6 L1141.3,739.2 L1141.3,738.8 Z" fill="url(#cbn)"/>
<line x1="963" y1="738.8" x2="1610.7" y2="738.8" stroke="#111" stroke-width="3"/>
<line x1="963" y1="740.3" x2="1407.9" y2="740.3" stroke="#1d5fa6" stroke-width="2.5"/>
<path d="M1243.1,739.1 L1243.9,738.4 L1244.9,738.2 L1246.1,737.5 L1247.4,736.9 L1248.8,737.1 L1250.3,736.5 L1251.9,734.8 L1253.5,734.9 L1255.2,734.2 L1256.9,732.5 L1258.6,732.6 L1260.3,731.4 L1262,731.2 L1263.6,730.4 L1265.1,730.4 L1266.5,729.2 L1268,728.3 L1269.5,728.2 L1271,727.4 L1272.4,727 L1273.8,727.3 L1275.2,725.9 L1276.6,725.7 L1278,725.5 L1279.4,725.4 L1280.8,723.8 L1282.3,723.8 L1283.7,722.9 L1285.2,722 L1286.7,721.6 L1288,720.7 L1289.4,720.8 L1290.7,719.6 L1292.1,719.4 L1293.4,718.1 L1294.8,717.5 L1296.2,717.8 L1297.6,717 L1299,716.2 L1300.4,714.5 L1301.8,714.4" fill="none" stroke="#e8909a" stroke-width="2.6" stroke-linejoin="round"  opacity="1"/>
<path d="M1301.8,714.4 L1303.3,713.4 L1304.8,713 L1306.4,712 L1307.9,711.3 L1309.5,710.6 L1310.8,709.6 L1312.2,708.9 L1313.6,707.8 L1315,707.3 L1316.5,706.3 L1318,705.6 L1319.5,704.6 L1321,704.3 L1322.5,704.1 L1324.1,702.4 L1325.6,701.5 L1327.1,700.8 L1328.6,700.5 L1330.2,699.6 L1331.6,699.5 L1333.1,698 L1334.5,697.7 L1335.9,697.4 L1337.3,697.1 L1338.6,695.5 L1340.2,694.7 L1341.8,695.3 L1343.2,693.8 L1344.7,693.8 L1346.1,693.6 L1347.5,693 L1348.9,691.9 L1350.3,691.4 L1351.6,692.1 L1353,691 L1354.4,691.4 L1355.7,690.1 L1357.1,690.3 L1358.5,689.2 L1360,688.7 L1361.4,689 L1362.9,688 L1364.3,688.6 L1365.7,688.5 L1367.2,687.6 L1368.7,688 L1370.2,687.5 L1371.6,686.9 L1373.1,686.4 L1374.6,686.7 L1376.1,686.6 L1377.6,685.2 L1379.1,685.7 L1380.6,684.6 L1382.1,684.4 L1383.6,684.8 L1385,684.4 L1386.5,684.1 L1388,683.6 L1389.6,683.3 L1391.1,683 L1392.6,682.5 L1394.2,681.7 L1395.7,681.9 L1397.2,681.6 L1398.7,680.8 L1400.2,681.1 L1401.7,680.7 L1403.2,679.5 L1404.7,679.8 L1406.2,679.6 L1407.6,680.1 L1409.1,679.5 L1410.5,679.2 L1412,679.9 L1413.5,679.2 L1414.9,679.3 L1416.3,680.3 L1417.7,679.8 L1419.1,680.2 L1420.5,680.3 L1421.9,681 L1423.3,680.9 L1424.7,681.2 L1426.1,682.6 L1427.6,682.9 L1429.1,682.4 L1430.6,682.4 L1432.1,683.7 L1433.5,683.7 L1434.9,683.8 L1436.3,684.4 L1437.7,684.6 L1439.2,685 L1440.6,685.2 L1442.1,685.2 L1443.6,685.9 L1445.1,686.1 L1446.6,685.9 L1448.1,687.2 L1449.6,686.8 L1451.1,686.9 L1452.6,687.8 L1454,688.3 L1455.4,687.8 L1456.8,688.9 L1458.2,689.3 L1459.8,689.4 L1461.3,689.5 L1462.9,690.7 L1464.4,690.8 L1465.8,691.2 L1467.3,691 L1468.7,692 L1470.2,691.9 L1471.6,693.2 L1473.1,693.4 L1474.5,693.5 L1476,693.6 L1477.5,694.7 L1479.1,695.4 L1480.6,696.1 L1482,695.9 L1483.5,696.8 L1484.9,696.4 L1486.4,696.8 L1487.9,698.2 L1489.4,698.5 L1490.9,698.2 L1492.4,698.9 L1494,699.2 L1495.5,700.2 L1497,701 L1498.5,701.2 L1500,701 L1501.5,702.1 L1503,702.5 L1504.4,702.9 L1505.9,703.3 L1507.4,703.8 L1508.9,703.6 L1510.3,705.1 L1511.8,705.7 L1513.2,705 L1514.7,705.5 L1516.1,705.8 L1517.5,707 L1518.9,706.8 L1520.4,707.3 L1521.8,708.7 L1523.2,708.5 L1524.7,708.8 L1526.1,709.5 L1527.6,710.1 L1529.1,710.9 L1530.5,711.2 L1531.9,711.8 L1533.3,712.4 L1534.7,712.2 L1536.1,713 L1537.6,712.7 L1539,714.1 L1540.4,713.4 L1541.9,714.1 L1543.3,714.2 L1544.8,714.7 L1546.2,715.1 L1547.7,715.9 L1549.2,717.1 L1550.7,716.5 L1552.2,717.6 L1553.7,717.9 L1555.1,717.7 L1556.5,718.3 L1557.9,718.7 L1559.4,718.4 L1560.8,719.2 L1562.3,719.9 L1563.7,720.3 L1565.2,719.8 L1566.6,720.7 L1568.1,720.6 L1569.6,721.5 L1571.1,722 L1572.6,721.9 L1574.1,721.8 L1575.6,723 L1577.1,722.5 L1578.6,722.6 L1580.1,723.1 L1581.6,723.3 L1583.1,724.7 L1584.6,724.1 L1586.2,724.1 L1587.9,725.5 L1589.6,725.5 L1591.3,725.7 L1593,725.7 L1594.7,726.1 L1596.4,726.3 L1598.1,726.2 L1599.8,727.4 L1601.4,727.6 L1602.9,727.7 L1604.4,728 L1605.8,728.2 L1607.1,727.3 L1608.3,727.6 L1609.3,728.8 L1610.3,728.4 L1611.1,728.5" fill="none" stroke="#d21c32" stroke-width="2.8" stroke-linejoin="round"  opacity="1"/>
<path d="M1250.3,740.9 L1251.2,741.1 L1252.2,741.2 L1253.4,741.2 L1254.7,741.5 L1256.2,742.1 L1257.8,742.6 L1259.4,742.8 L1261.1,743.4 L1262.9,743.3 L1264.7,743.5 L1266.5,744.2 L1267.8,744.8 L1269.1,744.9 L1270.4,745 L1271.9,745 L1273.3,745 L1274.8,745.7 L1276.3,745.5 L1277.8,746 L1279.3,746.5 L1280.9,746.9 L1282.4,747 L1283.9,747.1 L1285.5,747.7 L1287,747.7 L1288.5,748.3 L1289.9,748.9 L1291.4,748.9 L1292.8,749.1 L1294.2,750.1 L1295.7,750.1 L1297.1,750.5 L1298.5,750.4 L1299.9,750.7 L1301.3,751.7 L1302.7,751.6 L1304.2,752.1 L1305.6,753.1 L1307,753.3 L1308.5,754 L1310,753.7 L1311.5,754.2 L1313,754.3 L1314.3,754.8 L1315.6,755.3 L1316.9,755.5 L1318.3,756 L1319.6,756.9 L1320.9,756.6 L1322.2,757.6 L1323.6,757.8 L1324.9,757.4 L1326.3,758.5 L1327.7,758.8 L1329.1,759.1 L1330.6,758.5 L1332.1,759.6 L1333.6,760.1 L1335.1,759.6 L1336.8,760.7 L1338.4,760.2 L1339.7,760.7 L1341,760.7 L1342.3,760.9 L1343.7,761.6 L1345.1,761.6 L1346.5,762.7 L1347.9,762.2 L1349.4,762.7 L1350.8,762.8 L1352.3,763.7 L1353.8,763.3 L1355.3,763.3 L1356.8,764.6 L1358.3,764.6 L1359.9,764.6 L1361.4,764.5 L1362.9,765.5 L1364.5,765.8 L1366,766 L1367.5,765.8 L1369,766 L1370.6,766.6 L1372.1,766.9 L1373.6,767.1 L1375,767.4 L1376.5,767.6 L1378,768.2 L1379.5,768 L1381,767.8 L1382.5,768.7 L1384.1,768.6 L1385.6,769.5 L1387.1,769.2 L1388.7,769.4 L1390.2,769.7 L1391.8,770.2 L1393.3,770.5 L1394.8,770.5 L1396.3,770.5 L1397.8,771.6 L1399.3,771.8 L1400.7,771.3 L1402.1,771.3 L1403.5,771.9 L1404.9,772.2 L1406.2,772 L1407.5,772.7 L1408.7,772.7 L1409.9,772.8 L1411.8,772.5 L1413.6,772.8 L1415.2,772.8 L1416.8,772.1 L1418.2,771.7 L1419.6,772.2 L1421,771.5 L1422.3,771.6 L1423.7,770.8 L1425,770.9 L1426.3,771 L1427.7,770.8 L1429.1,770.7 L1430.6,770 L1432.1,770 L1433.5,770.1 L1434.9,769.7 L1436.3,769.7 L1437.7,769 L1439.2,769.7 L1440.7,768.6 L1442.2,769.1 L1443.7,768.9 L1445.2,768.9 L1446.7,768.4 L1448.2,768.3 L1449.6,768.5 L1451.1,768.5 L1452.6,768.1 L1454,767.8 L1455.4,768.2 L1456.8,767.7 L1458.2,767.3 L1459.8,767.7 L1461.3,767.7 L1462.9,767.5 L1464.4,766.7 L1465.8,766.5 L1467.3,766 L1468.7,765.8 L1470.2,766.3 L1471.6,766.1 L1473.1,765.7 L1474.5,765.5 L1476,764.7 L1477.5,764.3 L1479.1,764 L1480.6,764.5 L1482,763.6 L1483.5,764 L1484.9,763.6 L1486.4,763.1 L1487.9,763.6 L1489.4,763.4 L1490.9,762.4 L1492.4,762.8 L1494,762.5 L1495.5,762.1 L1497,761.8 L1498.5,762.3 L1500,761.7 L1501.5,761.4 L1503,761.1 L1504.4,761.2 L1505.9,760.5 L1507.4,759.8 L1508.9,760.2 L1510.3,759.7 L1511.8,759.9 L1513.2,759.4 L1514.7,758.7 L1516.1,759 L1517.5,757.8 L1518.9,757.5 L1520.4,758.1 L1521.8,756.8 L1523.2,757.1 L1524.7,756.3 L1526.1,756 L1527.6,756.3 L1529.1,755.5 L1530.5,755.3 L1531.9,754.8 L1533.3,755.1 L1534.7,754.3 L1536.1,753.8 L1537.6,753.8 L1539,753.7 L1540.4,753.9 L1541.9,753.2 L1543.3,753 L1544.8,752.3 L1546.2,752.1 L1547.7,752 L1549.2,752.1 L1550.7,751.3 L1552.2,751.1 L1553.7,751.4 L1555.1,750.3 L1556.5,750.4 L1557.9,750.8 L1559.4,749.6 L1560.8,750.3 L1562.3,749.9 L1563.7,749.2 L1565.2,749.2 L1566.6,749 L1568.1,748.7 L1569.6,748.7 L1571.1,748.7 L1572.6,748.7 L1574.1,748.6 L1575.6,747.7 L1577.1,747.5 L1578.6,747.5 L1580.1,747.2 L1581.6,747.4 L1583.1,747.4 L1584.6,747.1 L1586.2,746.4 L1587.9,747.2 L1589.6,746.5 L1591.3,746.6 L1593,745.9 L1594.7,746.2 L1596.4,746.1 L1598.1,745.9 L1599.8,745.6 L1601.4,745.2 L1602.9,745.6 L1604.4,744.9 L1605.8,745.6 L1607.1,745.4 L1608.3,745.5 L1609.3,745.4 L1610.3,744.5 L1611.1,744.8" fill="none" stroke="#d21c32" stroke-width="2.8" stroke-linejoin="round" stroke-dasharray="11,8" opacity="1"/>
<path d="M1088.7,738.8 L1090.1,738 L1091.9,737 L1094,735.6 L1096.4,734.1 L1098.8,732.2 L1100.8,730.6 L1102.8,728.9 L1104.9,727.1 L1107.2,724.9" fill="none" stroke="#90c090" stroke-width="2.6" stroke-linejoin="round"  opacity="1"/>
<path d="M1107.2,724.9 L1109.8,722.4 L1112.8,719.2 L1114.5,717.3 L1116.3,715.2 L1118.3,712.9 L1120.3,710.4 L1122.5,707.9 L1124.7,705.2 L1126.9,702.6 L1129.1,699.9 L1131.3,697.3 L1133.4,694.8 L1135.5,692.5 L1137.4,690.3 L1139.7,687.9 L1141.8,685.6 L1144,683.4 L1146.1,681.4 L1148.1,679.3 L1150.1,677.4 L1152.1,675.5 L1154.1,673.6 L1156.1,671.6 L1158,669.7 L1160.2,667.5 L1162.4,665.2 L1164.5,662.9 L1166.6,660.6 L1168.7,658.4 L1170.8,656.3 L1172.8,654.4 L1174.7,652.6 L1176.6,651.1 L1178.9,649.6 L1181,648.5 L1183.1,647.7 L1185.1,647 L1187.1,646.5 L1189.1,645.8 L1191.2,644.9 L1193.3,643.7 L1195.6,642.3 L1197.9,640.8 L1200.2,639.4 L1202.4,638.1 L1204.5,637.2 L1206.5,636.7 L1209,636.8 L1211.2,637.7 L1213.2,638.9 L1215.5,640.5 L1218,642 L1219.8,642.9 L1221.6,643.8 L1223.4,644.7 L1225.4,645.7 L1227.4,646.8 L1229.6,648.1 L1231.9,649.5 L1234.4,651.1 L1236.2,652.3 L1238.1,653.6 L1240,655.1 L1242.1,656.6 L1244.2,658.2 L1246.4,659.8 L1248.6,661.5 L1250.8,663.1 L1253,664.8 L1255.1,666.5 L1257.2,668.1 L1259.2,669.7 L1261.4,671.4 L1263.5,673.1 L1265.7,674.9 L1267.8,676.6 L1269.9,678.3 L1272,680.1 L1274,681.8 L1276.1,683.5 L1278,685.1 L1280,686.7 L1281.9,688.2 L1284.1,690 L1286.3,691.9 L1288.5,693.7 L1290.7,695.4 L1292.8,697.1 L1294.8,698.7 L1296.6,700.2 L1298.4,701.5 L1300,702.7 L1303,704.6 L1305.3,705.7 L1307.4,706.7 L1309.9,708 L1311.9,709.2 L1314,710.5 L1316.2,711.9 L1318.4,713.4 L1320.7,714.8 L1323.1,716.2 L1325.2,717.4 L1327.4,718.6 L1329.6,719.8 L1331.9,721.1 L1334.1,722.3 L1336.3,723.5 L1338.4,724.7 L1340.7,726.1 L1342.9,727.6 L1345.1,729.1 L1347.2,730.5 L1349.3,731.9 L1351.3,733.2 L1353.5,734.3 L1355.9,735.5 L1358.2,736.5 L1360.3,737.4 L1362.2,738.2 L1363.5,738.8" fill="none" stroke="#1a8c1a" stroke-width="2.8" stroke-linejoin="round"  opacity="1"/>
<path d="M1094,744.4 L1095.3,745.8 L1097,747.6 L1099.1,749.8 L1101.4,752.3 L1103.8,754.9 L1106.2,757.6 L1108.5,760.4 L1110.5,762.9 L1112.4,765.5 L1114.4,768.1 L1116.4,770.9 L1118.5,773.8 L1120.6,776.8 L1122.8,779.9 L1125.1,783.1 L1127,785.7 L1129,788.5 L1131,791.4 L1133.1,794.3 L1135.1,797.3 L1137.3,800.3 L1139.4,803.3 L1141.5,806.3 L1143.6,809.2 L1145.7,812 L1147.8,814.8 L1149.9,817.6 L1151.9,820.4 L1154,823.2 L1156.1,825.9 L1158.2,828.6 L1160.3,831.3 L1162.3,833.9 L1164.3,836.4 L1166.3,838.8 L1168.5,841.4 L1170.6,843.9 L1172.7,846.3 L1174.7,848.6 L1176.7,850.9 L1178.8,853.1 L1180.8,855.3 L1182.8,857.4 L1184.9,859.5 L1187,861.7 L1189,863.9 L1191.1,866.2 L1193.2,868.5 L1195.2,870.6 L1197.3,872.5 L1199.3,874.1 L1201.4,875.3 L1203.5,876 L1205.5,876.3 L1207.5,876.1 L1209.5,875.7 L1211.5,874.9 L1213.5,873.9 L1215.6,872.6 L1217.7,871.1 L1219.8,869.5 L1222.1,867.7 L1224,866 L1226,864.1 L1228,862 L1230.1,859.8 L1232.2,857.4 L1234.3,854.9 L1236.4,852.4 L1238.6,849.9 L1240.6,847.5 L1242.7,845.2 L1244.7,843 L1246.8,840.8 L1248.9,838.7 L1251,836.6 L1253,834.6 L1255,832.6 L1257,830.7 L1259,828.7 L1261.1,826.6 L1263.2,824.5 L1265.3,822.3 L1267.3,820.2 L1269.4,817.9 L1271.5,815.6 L1273.7,813.2 L1275.9,810.8 L1278,808.4 L1280.2,806.1 L1282.2,803.8 L1284.2,801.6 L1286.1,799.5 L1287.9,797.6 L1290.4,794.9 L1292.7,792.5 L1294.7,790.2 L1296.7,788.1 L1298.6,786.1 L1300.7,784.1 L1302.9,782 L1304.9,780.2 L1307,778.3 L1309.2,776.5 L1311.4,774.7 L1313.6,772.9 L1315.9,771.2 L1318.1,769.5 L1320.2,767.8 L1322.4,766.2 L1324.5,764.6 L1326.7,763 L1328.8,761.5 L1330.9,760 L1333,758.5 L1335.1,757.1 L1337.2,755.7 L1339.3,754.4 L1341.4,753.1 L1343.6,751.8 L1345.7,750.6 L1347.8,749.4 L1349.8,748.2 L1351.6,747.2 L1353.4,746.2 L1355.9,744.8 L1358.3,743.4 L1360.4,742.3 L1362.2,741.4 L1363.5,740.7" fill="none" stroke="#1a8c1a" stroke-width="2.8" stroke-linejoin="round" stroke-dasharray="11,8" opacity="1"/>
<path d="M977.6,738.8 L979,738.3 L981,737.7 L983.3,736.6 L985.7,735 L987.7,733.2 L989.8,731 L992,728.6 L994.4,726 L997,723.3 L998.9,721.6 L1000.9,719.8 L1002.9,718 L1005.1,716.1 L1007.3,714.2 L1009.5,712.4 L1011.6,710.6 L1013.6,708.9 L1015.8,707.1 L1017.9,705.3 L1020,703.7 L1022,702 L1024.1,700.5 L1026.1,698.9 L1028.1,697.5 L1030.2,696.1 L1032.3,694.7 L1034.4,693.3 L1036.5,692.1 L1038.6,690.9 L1040.6,689.9 L1042.5,689 L1045.1,688 L1047.6,687.4 L1050,687 L1052.3,686.7 L1054.4,686.5 L1056.6,686.4 L1058.4,686.4 L1060.2,686.8 L1062.5,687.7 L1064.3,688.6 L1066.3,689.9 L1068.4,691.4 L1070.6,693 L1073,694.7 L1075.6,696.5 L1077.4,697.7 L1079.4,699.1 L1081.5,700.5 L1083.6,701.9 L1085.8,703.3 L1088,704.8 L1090.1,706.2 L1092.2,707.6 L1094.2,708.9 L1096.3,710.3 L1098.4,711.6 L1100.4,712.9 L1102.4,714.2 L1104.4,715.4 L1106.4,716.7 L1108.4,717.9 L1110.6,719.2 L1112.5,720.4 L1114.6,721.5 L1116.7,722.7 L1118.8,723.9 L1120.9,725.1 L1123,726.3 L1125.1,727.4 L1127.2,728.5 L1129.1,729.5 L1131.3,730.6 L1133.5,731.6 L1135.7,732.6 L1137.9,733.6 L1139.9,734.5 L1142,735.3 L1143.9,736.1 L1145.7,736.7 L1148.5,737.5 L1151.3,738 L1153.8,738.4 L1155.9,738.6 L1157.4,738.8" fill="none" stroke="#1d5fa6" stroke-width="2.8" stroke-linejoin="round"  opacity="1"/>
<path d="M983.7,741.6 L984.1,742.5 L987.7,745 L989.2,745.8 L990.9,746.7 L992.9,747.8 L995.1,748.9 L997.4,750.2 L999.9,751.4 L1002.4,752.7 L1004.9,754 L1007.3,755.2 L1009.6,756.4 L1011.7,757.5 L1013.6,758.4 L1016.1,759.7 L1018.4,760.8 L1020.6,761.8 L1022.6,762.8 L1024.5,763.7 L1026.4,764.5 L1028.3,765.3 L1030.2,766.1 L1032.3,766.9 L1034.4,767.8 L1036.5,768.6 L1038.5,769.3 L1040.5,769.9 L1042.4,770.4 L1044.3,770.8 L1046.4,771 L1048.4,770.9 L1050.4,770.8 L1052.4,770.5 L1054.4,770.2 L1056.4,769.8 L1058.5,769.5 L1060.6,769.1 L1062.8,768.6 L1065,768.1 L1067.3,767.4 L1069.8,766.6 L1071.7,765.9 L1073.7,765.1 L1075.8,764.2 L1077.9,763.3 L1080.1,762.3 L1082.3,761.4 L1084.5,760.4 L1086.7,759.5 L1088.7,758.7 L1090.8,757.8 L1092.8,757 L1094.9,756.2 L1097,755.3 L1099.1,754.5 L1101.1,753.7 L1103.1,752.9 L1104.9,752.2 L1107.1,751.3 L1109.2,750.5 L1111.2,749.7 L1113.2,748.9 L1115.1,748.2 L1117.1,747.4 L1119,746.7 L1121.1,746 L1123.3,745.2 L1125.4,744.5 L1127.5,743.8 L1129.6,743.1 L1131.5,742.5 L1133.2,741.9 L1135.8,741 L1138.1,740.2 L1140,739.6 L1141.3,739.2" fill="none" stroke="#1d5fa6" stroke-width="2.8" stroke-linejoin="round" stroke-dasharray="11,8" opacity="1"/>
<rect x="963" y="550.2" width="647.7" height="377.4" fill="none" stroke="#111" stroke-width="2.2"/>
<line x1="1003.9" y1="927.6" x2="1003.9" y2="920.6" stroke="#111" stroke-width="2"/>
<text x="1003.9" y="951" font-size="21.2" text-anchor="middle">450</text>
<line x1="1054.4" y1="927.6" x2="1054.4" y2="922.6" stroke="#111" stroke-width="2"/>
<line x1="1104.9" y1="927.6" x2="1104.9" y2="920.6" stroke="#111" stroke-width="2"/>
<text x="1104.9" y="951" font-size="21.2" text-anchor="middle">500</text>
<line x1="1155.4" y1="927.6" x2="1155.4" y2="922.6" stroke="#111" stroke-width="2"/>
<line x1="1205.9" y1="927.6" x2="1205.9" y2="920.6" stroke="#111" stroke-width="2"/>
<text x="1205.9" y="951" font-size="21.2" text-anchor="middle">550</text>
<line x1="1256.4" y1="927.6" x2="1256.4" y2="922.6" stroke="#111" stroke-width="2"/>
<line x1="1306.9" y1="927.6" x2="1306.9" y2="920.6" stroke="#111" stroke-width="2"/>
<text x="1306.9" y="951" font-size="21.2" text-anchor="middle">600</text>
<line x1="1357.4" y1="927.6" x2="1357.4" y2="922.6" stroke="#111" stroke-width="2"/>
<line x1="1407.9" y1="927.6" x2="1407.9" y2="920.6" stroke="#111" stroke-width="2"/>
<text x="1407.9" y="951" font-size="21.2" text-anchor="middle">650</text>
<line x1="1458.4" y1="927.6" x2="1458.4" y2="922.6" stroke="#111" stroke-width="2"/>
<line x1="1508.9" y1="927.6" x2="1508.9" y2="920.6" stroke="#111" stroke-width="2"/>
<text x="1508.9" y="951" font-size="21.2" text-anchor="middle">700</text>
<line x1="1559.4" y1="927.6" x2="1559.4" y2="922.6" stroke="#111" stroke-width="2"/>
<text x="1609.9" y="951" font-size="21.2" text-anchor="middle">750</text>
<line x1="963" y1="889.2" x2="970" y2="889.2" stroke="#111" stroke-width="2"/>
<text x="953.3" y="894.4" font-size="20.9" text-anchor="end">-8000</text>
<line x1="963" y1="851.6" x2="968" y2="851.6" stroke="#111" stroke-width="2"/>
<line x1="963" y1="814" x2="970" y2="814" stroke="#111" stroke-width="2"/>
<text x="953.3" y="819.2" font-size="20.9" text-anchor="end">-4000</text>
<line x1="963" y1="776.4" x2="968" y2="776.4" stroke="#111" stroke-width="2"/>
<line x1="963" y1="738.8" x2="970" y2="738.8" stroke="#111" stroke-width="2"/>
<text x="953.3" y="744" font-size="20.9" text-anchor="end">0</text>
<line x1="963" y1="701.2" x2="968" y2="701.2" stroke="#111" stroke-width="2"/>
<line x1="963" y1="663.6" x2="970" y2="663.6" stroke="#111" stroke-width="2"/>
<text x="953.3" y="668.8" font-size="20.9" text-anchor="end">4000</text>
<line x1="963" y1="626" x2="968" y2="626" stroke="#111" stroke-width="2"/>
<line x1="963" y1="588.4" x2="970" y2="588.4" stroke="#111" stroke-width="2"/>
<text x="953.3" y="593.6" font-size="20.9" text-anchor="end">8000</text>
<text x="1163.9" y="983.1" font-size="27.2">Wavelength (nm)</text>
<text transform="translate(889.8,808.8) rotate(-90)" font-size="26.6">CPL (mdeg)</text>
<text x="885" y="532.5" font-size="35.5" font-weight="bold">c</text>
<text x="1017.6" y="647.8" font-size="24.6" fill="#1d5fa6">BCPL</text>
<text x="1176.7" y="596" font-size="24.4" fill="#1a8c1a">GCPL</text>
<text x="1380.7" y="643.2" font-size="24.6" fill="#d21c32">RCPL</text>
<path d="M1505.2,637 A33.5,35 0 0 1 1571.3,627 L1576.2,627.6 L1567.4,637 L1556.7,627.9 L1562.8,627.6 A24.5,33 0 0 0 1514.3,637 Z" fill="#fff" stroke="#7a7a7a" stroke-width="2.2" stroke-linejoin="round"/>
<path d="M1505.2,841.5 A36,33 0 0 0 1570.7,851.2 L1576.2,850 L1567.1,841.5 L1556.7,850.6 L1561.6,850 A24,30 0 0 1 1514.3,841.5 Z" fill="none" stroke="#7a7a7a" stroke-width="2.2" stroke-dasharray="4.5,3" stroke-linejoin="round"/>
<defs><linearGradient id="navy" gradientUnits="userSpaceOnUse" x1="300" y1="1180" x2="650" y2="1440"><stop offset="0" stop-color="#143a94"/><stop offset="1" stop-color="#0f2f7c"/></linearGradient><linearGradient id="navyside" x1="0" y1="0" x2="0" y2="1"><stop offset="0" stop-color="#12358a"/><stop offset="0.5" stop-color="#0c2768"/><stop offset="1" stop-color="#081a48"/></linearGradient><pattern id="pins" width="7" height="18" patternUnits="userSpaceOnUse" patternTransform="skewY(13)"><path d="M5.5,1.5 L2,8 L5.5,15" fill="none" stroke="#d4d8e6" stroke-width="1.9"/></pattern><pattern id="pins2" width="9" height="7" patternUnits="userSpaceOnUse"><path d="M1,6 L4.5,1.5 L8,6" fill="none" stroke="#c9d0e0" stroke-width="1.4"/></pattern><linearGradient id="rainbow" gradientUnits="userSpaceOnUse" x1="312" y1="1260" x2="690" y2="1230"><stop offset="0" stop-color="#f4c2e6"/><stop offset="0.12" stop-color="#a4c8f2"/><stop offset="0.28" stop-color="#86d4f0"/><stop offset="0.44" stop-color="#a2e6b0"/><stop offset="0.6" stop-color="#e8f0a4"/><stop offset="0.76" stop-color="#f8cc9c"/><stop offset="1" stop-color="#f2a0a4"/></linearGradient><linearGradient id="blockside" x1="0" y1="0" x2="0" y2="1"><stop offset="0" stop-color="#eef0f6"/><stop offset="1" stop-color="#d4dae8"/></linearGradient><linearGradient id="gloss" gradientUnits="userSpaceOnUse" x1="330" y1="1180" x2="600" y2="1320"><stop offset="0" stop-color="#fff" stop-opacity="0.35"/><stop offset="0.5" stop-color="#fff" stop-opacity="0"/><stop offset="1" stop-color="#fff" stop-opacity="0.2"/></linearGradient></defs><g fill="none" stroke="#f2f2f2" stroke-width="2" opacity="0.8">
<polyline points="5,1250 180,1028 520,1040"/>
<polyline points="115,1530 395,1608 870,1560 900,1290"/>
</g>
<line x1="257" y1="1149" x2="377.2" y2="1168.2" stroke="#d3d9dc" stroke-width="3"/>
<line x1="252" y1="1156" x2="371.6" y2="1175.1" stroke="#dde2e4" stroke-width="3"/>
<line x1="233" y1="1183" x2="350.1" y2="1201.7" stroke="#d6dbde" stroke-width="2.5"/>
<line x1="226" y1="1190" x2="344.5" y2="1209" stroke="#dfe3e5" stroke-width="3"/>
<line x1="216" y1="1203" x2="334.2" y2="1221.9" stroke="#d3d9dc" stroke-width="3.5"/>
<line x1="212" y1="1211" x2="327.8" y2="1229.5" stroke="#dde2e4" stroke-width="3"/>
<line x1="205" y1="1222" x2="319" y2="1240.2" stroke="#d6dcdd" stroke-width="5"/>
<line x1="200" y1="1231" x2="311.8" y2="1248.9" stroke="#dfe4e4" stroke-width="5"/>
<line x1="193" y1="1241" x2="303.9" y2="1258.7" stroke="#d3d9da" stroke-width="5"/>
<line x1="187" y1="1251" x2="295.9" y2="1268.4" stroke="#dbe0e1" stroke-width="5"/>
<line x1="180" y1="1262" x2="287.1" y2="1279.1" stroke="#d5dbdc" stroke-width="5"/>
<line x1="160" y1="1280" x2="272.8" y2="1298" stroke="#dfe3e4" stroke-width="3"/>
<line x1="150" y1="1290" x2="264.8" y2="1308.4" stroke="#d7dddd" stroke-width="9"/>
<line x1="134" y1="1308" x2="250.5" y2="1326.6" stroke="#dfe4e4" stroke-width="14"/>
<polyline points="230,1186 246,1187 320,1178 345,1180" fill="none" stroke="#d0d6d8" stroke-width="3"/>
<polyline points="220,1222 258,1226 272,1240 300,1245" fill="none" stroke="#d0d6d8" stroke-width="3"/>
<polyline points="163,1272 205,1279 270,1268 280,1270" fill="none" stroke="#d0d6d8" stroke-width="3"/>
<polygon points="428,1098 715,1150 712,1182 420,1150" fill="#e8eaef"/>
<line x1="440" y1="1100.7" x2="422" y2="1140.7" stroke="#d6d9e0" stroke-width="6"/>
<line x1="449.5" y1="1102.4" x2="431.5" y2="1142.4" stroke="#c9ccd6" stroke-width="4"/>
<line x1="468.5" y1="1105.8" x2="450.5" y2="1145.8" stroke="#c9ccd6" stroke-width="4"/>
<line x1="478" y1="1107.6" x2="460" y2="1147.6" stroke="#d6d9e0" stroke-width="6"/>
<line x1="497" y1="1111" x2="479" y2="1151" stroke="#d6d9e0" stroke-width="4"/>
<line x1="506.5" y1="1112.7" x2="488.5" y2="1152.7" stroke="#c9ccd6" stroke-width="4"/>
<line x1="525.5" y1="1116.1" x2="507.5" y2="1156.1" stroke="#c9ccd6" stroke-width="4"/>
<line x1="535" y1="1117.8" x2="517" y2="1157.8" stroke="#d6d9e0" stroke-width="4"/>
<line x1="554" y1="1121.2" x2="536" y2="1161.2" stroke="#d6d9e0" stroke-width="6"/>
<line x1="563.5" y1="1123" x2="545.5" y2="1163" stroke="#c9ccd6" stroke-width="4"/>
<line x1="582.5" y1="1126.4" x2="564.5" y2="1166.4" stroke="#c9ccd6" stroke-width="4"/>
<line x1="592" y1="1128.1" x2="574" y2="1168.1" stroke="#d6d9e0" stroke-width="6"/>
<line x1="611" y1="1131.5" x2="593" y2="1171.5" stroke="#d6d9e0" stroke-width="4"/>
<line x1="620.5" y1="1133.2" x2="602.5" y2="1173.2" stroke="#c9ccd6" stroke-width="4"/>
<line x1="639.5" y1="1136.6" x2="621.5" y2="1176.6" stroke="#c9ccd6" stroke-width="4"/>
<line x1="649" y1="1138.3" x2="631" y2="1178.3" stroke="#d6d9e0" stroke-width="4"/>
<line x1="668" y1="1141.8" x2="650" y2="1181.8" stroke="#d6d9e0" stroke-width="6"/>
<line x1="677.5" y1="1143.5" x2="659.5" y2="1183.5" stroke="#c9ccd6" stroke-width="4"/>
<line x1="696.5" y1="1146.9" x2="678.5" y2="1186.9" stroke="#c9ccd6" stroke-width="4"/>
<line x1="706" y1="1148.6" x2="688" y2="1188.6" stroke="#d6d9e0" stroke-width="6"/>
<line x1="752" y1="1160" x2="718" y2="1210" stroke="#c8c8c8" stroke-width="1.5"/>
<line x1="778" y1="1258" x2="897" y2="1274" stroke="#3aa0a8" stroke-width="2.5"/>
<line x1="774.4" y1="1264" x2="889.8" y2="1280" stroke="#9ad04a" stroke-width="3"/>
<line x1="770.8" y1="1270" x2="882.6" y2="1286" stroke="#3aa0a8" stroke-width="2.5"/>
<line x1="764.8" y1="1280" x2="870.6" y2="1296" stroke="#4a90c8" stroke-width="3"/>
<line x1="758.8" y1="1290" x2="858.6" y2="1306" stroke="#c8d0e0" stroke-width="2"/>
<line x1="752.8" y1="1300" x2="846.6" y2="1316" stroke="#2050d0" stroke-width="3"/>
<line x1="749.2" y1="1306" x2="839.4" y2="1322" stroke="#2858d8" stroke-width="3"/>
<line x1="744.4" y1="1314" x2="829.8" y2="1330" stroke="#2050d0" stroke-width="3"/>
<line x1="728" y1="1328" x2="790" y2="1336" stroke="#6cc0c0" stroke-width="5"/>
<line x1="722" y1="1336" x2="784" y2="1344" stroke="#94c4dc" stroke-width="5"/>
<line x1="716" y1="1344" x2="778" y2="1352" stroke="#6cc0c0" stroke-width="5"/>
<line x1="710" y1="1352" x2="772" y2="1360" stroke="#94c4dc" stroke-width="5"/>
<line x1="704" y1="1360" x2="766" y2="1368" stroke="#6cc0c0" stroke-width="5"/>
<polyline points="735,1325 775,1331 790,1349 830,1356" fill="none" stroke="#9ad04a" stroke-width="3"/>
<polyline points="680,1382 720,1389 790,1381 812,1384" fill="none" stroke="#3c6cd0" stroke-width="6"/>
<polyline points="685,1375 720,1381 790,1373 815,1376" fill="none" stroke="#9ad04a" stroke-width="2.5"/>
<polygon points="650,1392 790,1414 768,1450 640,1428" fill="#86c6cc"/>
<line x1="640" y1="1433" x2="762" y2="1455" stroke="#a8d8dc" stroke-width="4"/>
<g>
<polygon points="218,1405 600,1440 560,1535 230,1480" fill="#e6eef8"/>
<polygon points="372,1420 420,1426 372,1505 318,1496" fill="#6d8ee6"/>
<polygon points="430,1428 444,1430 398,1508 384,1506" fill="#a8c8e0"/>
<polygon points="450,1431 478,1434 430,1515 404,1510" fill="#6890e8"/>
<polygon points="484,1435 492,1436 446,1516 438,1515" fill="#78c0c0"/>
<polygon points="500,1437 520,1439 474,1522 455,1518" fill="#8aa8ee"/>
<line x1="530" y1="1440" x2="500" y2="1535" stroke="#78c0b0" stroke-width="2.5"/>
<line x1="548" y1="1440" x2="518" y2="1535" stroke="#b8c8d8" stroke-width="2.5"/>
<line x1="562" y1="1440" x2="532" y2="1535" stroke="#60b8a0" stroke-width="2.5"/>
<line x1="578" y1="1440" x2="548" y2="1535" stroke="#90c8d8" stroke-width="2.5"/>
<polygon points="232,1410 244,1412 240,1422 228,1420" fill="#5a88e6"/>
<polygon points="252,1413 264,1415 260,1425 248,1423" fill="#5a88e6"/>
<polygon points="272,1416 284,1418 280,1428 268,1426" fill="#5a88e6"/>
<polygon points="292,1419 304,1421 300,1431 288,1429" fill="#5a88e6"/>
<polygon points="312,1422 324,1424 320,1434 308,1432" fill="#5a88e6"/>
<polygon points="228,1430 242,1432 238,1442 224,1440" fill="#7aa0ec"/>
<polygon points="250,1434 264,1436 260,1446 246,1444" fill="#7aa0ec"/>
<polygon points="272,1438 286,1440 282,1450 268,1448" fill="#7aa0ec"/>
<polyline points="232,1400 226,1430 216,1445 195,1470" fill="none" stroke="#3060d0" stroke-width="2.5"/>
<polyline points="345,1420 330,1445 250,1453 230,1475" fill="none" stroke="#60b8b0" stroke-width="2.5"/>
<polyline points="355,1425 340,1452 262,1462 245,1480" fill="none" stroke="#a0c8e0" stroke-width="5"/>
</g>
<polygon points="208,1382 612,1460 797,1236 390,1172" fill="#9cb2e6"/>
<polyline points="209,1385.5 612,1463.5" fill="none" stroke="#141414" stroke-width="4.5"/>
<polyline points="612,1463 797,1238" fill="none" stroke="#5a70a0" stroke-width="3.5"/>
<polygon points="226,1352 226,1380 608,1458 612,1462 766,1242 766,1228 611,1449" fill="url(#navyside)" stroke="#0b2258" stroke-width="4" stroke-linejoin="round"/>
<polygon points="227,1350 372,1168 764,1226 610,1447" fill="url(#navy)" stroke="#1a44a0" stroke-width="5" stroke-linejoin="round"/>
<polygon points="252,1367 568,1439 568,1454 252,1384" fill="url(#pins)"/>
<polygon points="616,1444 754,1246 762,1250 624,1448" fill="url(#pins2)" opacity="0.9"/>
<polygon points="266,1340 420,1190 718,1242 598,1404" fill="#b7c1df"/>
<polyline points="266,1343 598,1408" fill="none" stroke="#141414" stroke-width="5"/>
<polyline points="598,1406 718,1244" fill="none" stroke="#8e9aba" stroke-width="3"/>
<path d="M312,1273 L582,1327 L685,1203 L688,1262 Q688,1274 678,1284 L592,1384 Q584,1392 570,1390 L322,1340 Q308,1336 308,1322 Z" fill="url(#blockside)" opacity="0.96"/>
<g stroke="#6f82b0" stroke-width="1.6" opacity="0.7"><line x1="344" y1="1305.2" x2="348" y2="1305.2"/><line x1="341.4" y1="1308.4" x2="350.6" y2="1308.4"/><line x1="338.8" y1="1311.6" x2="353.2" y2="1311.6"/><line x1="336.2" y1="1314.8" x2="355.8" y2="1314.8"/><line x1="333.6" y1="1318" x2="358.4" y2="1318"/><line x1="336.2" y1="1321.2" x2="355.8" y2="1321.2"/><line x1="338.8" y1="1324.4" x2="353.2" y2="1324.4"/><line x1="341.4" y1="1327.6" x2="350.6" y2="1327.6"/><line x1="344" y1="1330.8" x2="348" y2="1330.8"/><line x1="346" y1="1302" x2="346" y2="1334"/></g>
<g stroke="#6f82b0" stroke-width="1.6" opacity="0.7"><line x1="387.6" y1="1317.2" x2="412.4" y2="1317.2"/><line x1="390.2" y1="1320.4" x2="409.8" y2="1320.4"/><line x1="392.8" y1="1323.6" x2="407.2" y2="1323.6"/><line x1="395.4" y1="1326.8" x2="404.6" y2="1326.8"/><line x1="398" y1="1330" x2="402" y2="1330"/><line x1="395.4" y1="1333.2" x2="404.6" y2="1333.2"/><line x1="392.8" y1="1336.4" x2="407.2" y2="1336.4"/><line x1="390.2" y1="1339.6" x2="409.8" y2="1339.6"/><line x1="387.6" y1="1342.8" x2="412.4" y2="1342.8"/><line x1="400" y1="1314" x2="400" y2="1346"/></g>
<g stroke="#6f82b0" stroke-width="1.6" opacity="0.7"><line x1="453" y1="1331.2" x2="457" y2="1331.2"/><line x1="450.4" y1="1334.4" x2="459.6" y2="1334.4"/><line x1="447.8" y1="1337.6" x2="462.2" y2="1337.6"/><line x1="445.2" y1="1340.8" x2="464.8" y2="1340.8"/><line x1="442.6" y1="1344" x2="467.4" y2="1344"/><line x1="445.2" y1="1347.2" x2="464.8" y2="1347.2"/><line x1="447.8" y1="1350.4" x2="462.2" y2="1350.4"/><line x1="450.4" y1="1353.6" x2="459.6" y2="1353.6"/><line x1="453" y1="1356.8" x2="457" y2="1356.8"/><line x1="455" y1="1328" x2="455" y2="1360"/></g>
<g stroke="#6f82b0" stroke-width="1.6" opacity="0.7"><line x1="499.6" y1="1342.2" x2="524.4" y2="1342.2"/><line x1="502.2" y1="1345.4" x2="521.8" y2="1345.4"/><line x1="504.8" y1="1348.6" x2="519.2" y2="1348.6"/><line x1="507.4" y1="1351.8" x2="516.6" y2="1351.8"/><line x1="510" y1="1355" x2="514" y2="1355"/><line x1="507.4" y1="1358.2" x2="516.6" y2="1358.2"/><line x1="504.8" y1="1361.4" x2="519.2" y2="1361.4"/><line x1="502.2" y1="1364.6" x2="521.8" y2="1364.6"/><line x1="499.6" y1="1367.8" x2="524.4" y2="1367.8"/><line x1="512" y1="1339" x2="512" y2="1371"/></g>
<g stroke="#6f82b0" stroke-width="1.6" opacity="0.7"><line x1="560" y1="1353.2" x2="564" y2="1353.2"/><line x1="557.4" y1="1356.4" x2="566.6" y2="1356.4"/><line x1="554.8" y1="1359.6" x2="569.2" y2="1359.6"/><line x1="552.2" y1="1362.8" x2="571.8" y2="1362.8"/><line x1="549.6" y1="1366" x2="574.4" y2="1366"/><line x1="552.2" y1="1369.2" x2="571.8" y2="1369.2"/><line x1="554.8" y1="1372.4" x2="569.2" y2="1372.4"/><line x1="557.4" y1="1375.6" x2="566.6" y2="1375.6"/><line x1="560" y1="1378.8" x2="564" y2="1378.8"/><line x1="562" y1="1350" x2="562" y2="1382"/></g>
<polygon points="312,1273 380,1163 685,1203 582,1327" fill="url(#rainbow)" opacity="0.95"/>
<polygon points="312,1273 380,1163 685,1203 582,1327" fill="url(#gloss)"/>
<polyline points="312,1274 582,1328" fill="none" stroke="#111" stroke-width="4"/>
<polygon points="403,1036 436,1077 417,1077 417,1235 389,1235 389,1077 370,1077" fill="#dfeaf8" stroke="#9dbde0" stroke-width="2" opacity="0.8"/>
<polygon points="493,1054 526,1094 507,1094 507,1250 479,1250 479,1094 460,1094" fill="#e4f2dc" stroke="#a8d494" stroke-width="2" opacity="0.8"/>
<polygon points="586,1068 620,1110 601,1110 601,1262 571,1262 571,1110 552,1110" fill="#fbe2d2" stroke="#f0b090" stroke-width="2" opacity="0.8"/>
<path d="M378,1127 A29,12 0 1 0 427.5,1119.5" fill="none" stroke="#2a2a2a" stroke-width="3.6" opacity="1"/><polygon points="416,1113 434.5,1112.5 426.5,1126.5" fill="#2a2a2a" opacity="1"/>
<path d="M468,1142 A29,12 0 1 0 517.5,1134.5" fill="none" stroke="#2a2a2a" stroke-width="3.6" opacity="1"/><polygon points="506,1128 524.5,1127.5 516.5,1141.5" fill="#2a2a2a" opacity="1"/>
<path d="M556,1157 A29,12 0 1 0 605.5,1149.5" fill="none" stroke="#2a2a2a" stroke-width="3.6" opacity="1"/><polygon points="594,1143 612.5,1142.5 604.5,1156.5" fill="#2a2a2a" opacity="1"/>
<path d="M378,1196 A29,12 0 1 0 427.5,1188.5" fill="none" stroke="#6a7080" stroke-width="2.6" opacity="0.5"/><polygon points="416,1182 434.5,1181.5 426.5,1195.5" fill="#6a7080" opacity="0.5"/>
<path d="M468,1210 A29,12 0 1 0 517.5,1202.5" fill="none" stroke="#6a7080" stroke-width="2.6" opacity="0.5"/><polygon points="506,1196 524.5,1195.5 516.5,1209.5" fill="#6a7080" opacity="0.5"/>
<path d="M556,1229 A29,12 0 1 0 605.5,1221.5" fill="none" stroke="#6a7080" stroke-width="2.6" opacity="0.5"/><polygon points="594,1215 612.5,1214.5 604.5,1228.5" fill="#6a7080" opacity="0.5"/>
<line x1="360" y1="1249" x2="295.8" y2="1036.1" stroke="#000" stroke-width="3.8" stroke-dasharray="12,8"/><polygon points="290,1017 304.4,1033.5 287.2,1038.7" fill="#000"/>
<line x1="555" y1="1065" x2="591.9" y2="982.3" stroke="#000" stroke-width="3.8" stroke-dasharray="12,8"/><polygon points="600,964 600.1,985.9 583.6,978.6" fill="#000"/>
<line x1="312" y1="1382" x2="202.8" y2="1421.2" stroke="#000" stroke-width="3.8" stroke-dasharray="12,8"/><polygon points="184,1428 199.8,1412.8 205.9,1429.7" fill="#000"/>
<line x1="600" y1="1333" x2="677.7" y2="1480.3" stroke="#000" stroke-width="3.8" stroke-dasharray="12,8"/><polygon points="687,1498 669.7,1484.5 685.6,1476.1" fill="#000"/>
<text x="37.5" y="890.5" font-size="35.5" font-weight="bold">d</text>
<text x="522.4" y="945.1" font-size="36.5">Full-color CPL</text>
<text x="101.5" y="990.5" font-size="36.5">Narrow bandpass filter</text>
<text x="72.5" y="1467.1" font-size="37">UV chip</text>
<text x="627" y="1537" font-size="36.9">SFEG</text>
<text x="152.2" y="1628.8" font-size="48.6">Full-color coated CPL device</text>
<defs><clipPath id="clipE"><rect x="953" y="1103" width="293" height="551"/></clipPath><linearGradient id="ebg" x1="0" y1="0" x2="0" y2="1"><stop offset="0" stop-color="#222a29"/><stop offset="0.35" stop-color="#28312f"/><stop offset="0.6" stop-color="#2a3331"/><stop offset="1" stop-color="#232a29"/></linearGradient><filter id="blur8" x="-50%" y="-50%" width="200%" height="200%"><feGaussianBlur stdDeviation="8"/></filter><filter id="blur4" x="-50%" y="-50%" width="200%" height="200%"><feGaussianBlur stdDeviation="4"/></filter><filter id="blur15" x="-50%" y="-50%" width="200%" height="200%"><feGaussianBlur stdDeviation="15"/></filter><filter id="blur2" x="-50%" y="-50%" width="200%" height="200%"><feGaussianBlur stdDeviation="1.5"/></filter><radialGradient id="eglow" cx="0.5" cy="0.5" r="0.5"><stop offset="0" stop-color="#fff8ea" stop-opacity="0.9"/><stop offset="0.3" stop-color="#d8d4c4" stop-opacity="0.45"/><stop offset="1" stop-color="#5a6460" stop-opacity="0"/></radialGradient><linearGradient id="hstreak" x1="0" y1="0" x2="1" y2="0"><stop offset="0" stop-color="#6f8a88" stop-opacity="0.55"/><stop offset="0.4" stop-color="#a8bab4" stop-opacity="0.85"/><stop offset="0.6" stop-color="#a8bab4" stop-opacity="0.85"/><stop offset="1" stop-color="#6f8a88" stop-opacity="0.6"/></linearGradient><linearGradient id="capg" x1="0" y1="0" x2="0" y2="1"><stop offset="0" stop-color="#7a2626"/><stop offset="0.5" stop-color="#4a2020" stop-opacity="0.8"/><stop offset="1" stop-color="#2a2626" stop-opacity="0"/></linearGradient></defs><g clip-path="url(#clipE)">
<rect x="953" y="1103" width="293" height="551" fill="url(#ebg)"/>
<g filter="url(#blur15)" opacity="0.55">
<polygon points="953,1180 953,1240 1250,1540 1250,1470" fill="#4a6866"/>
<polygon points="1250,1230 1250,1280 990,1560 960,1520" fill="#3e5452"/>
</g>
<rect x="953" y="1368" width="293" height="24" fill="url(#hstreak)" filter="url(#blur4)"/>
<line x1="1100" y1="1234" x2="1103" y2="1348" stroke="#3e4644" stroke-width="3"/><circle cx="1100" cy="1235" r="1.8" fill="#8a9290"/><circle cx="1101.5" cy="1335" r="1.6" fill="#9aa2a0"/>
<line x1="1124" y1="1428" x2="1100" y2="1525" stroke="#4c5654" stroke-width="3"/>
<line x1="1116" y1="1430" x2="1092" y2="1525" stroke="#3a4442" stroke-width="2"/>
<g filter="url(#blur2)">
<path d="M1072,1518 Q1100,1512 1130,1533 L1122,1620 Q1090,1625 1052,1610 Z" fill="url(#capg)"/>
<path d="M1074,1517 Q1100,1512 1129,1532 L1127,1540 Q1100,1526 1072,1528 Z" fill="#7e2a2a"/>
</g>
<circle cx="1113" cy="1379" r="85" fill="url(#eglow)"/>
<path d="M1094,1348 L1132,1348 Q1149,1358 1149,1379 Q1149,1400 1132,1411 L1094,1411 Q1078,1400 1078,1379 Q1078,1358 1094,1348 Z" fill="#fffef8" filter="url(#blur2)"/>
</g>
<text x="976.3" y="1157.7" font-size="36.5" fill="#fff">White emission</text>
<text x="884.5" y="1064" font-size="35.5" font-weight="bold">e</text>
<defs><radialGradient id="sr" cx="0.5" cy="0.5" r="0.5"><stop offset="0" stop-color="#ff70a0"/><stop offset="0.62" stop-color="#ff1848"/><stop offset="0.82" stop-color="#ff1848" stop-opacity="0.85"/><stop offset="1" stop-color="#ff1848" stop-opacity="0"/></radialGradient><radialGradient id="srh" cx="0.5" cy="0.5" r="0.5"><stop offset="0" stop-color="#a00018" stop-opacity="0.35"/><stop offset="1" stop-color="#a00018" stop-opacity="0"/></radialGradient><radialGradient id="sg" cx="0.5" cy="0.5" r="0.5"><stop offset="0" stop-color="#40ff70"/><stop offset="0.62" stop-color="#18d828"/><stop offset="0.82" stop-color="#18d828" stop-opacity="0.85"/><stop offset="1" stop-color="#18d828" stop-opacity="0"/></radialGradient><radialGradient id="sgh" cx="0.5" cy="0.5" r="0.5"><stop offset="0" stop-color="#086010" stop-opacity="0.35"/><stop offset="1" stop-color="#086010" stop-opacity="0"/></radialGradient><radialGradient id="sb" cx="0.5" cy="0.5" r="0.5"><stop offset="0" stop-color="#7888ff"/><stop offset="0.62" stop-color="#2a18f8"/><stop offset="0.82" stop-color="#2a18f8" stop-opacity="0.85"/><stop offset="1" stop-color="#2a18f8" stop-opacity="0"/></radialGradient><radialGradient id="sbh" cx="0.5" cy="0.5" r="0.5"><stop offset="0" stop-color="#1a10a0" stop-opacity="0.35"/><stop offset="1" stop-color="#1a10a0" stop-opacity="0"/></radialGradient></defs><rect x="1315" y="1103" width="292" height="551" fill="#020202"/>
<circle cx="1461" cy="1215" r="66.0" fill="url(#srh)"/><circle cx="1461" cy="1215" r="37.949999999999996" fill="url(#sr)"/>
<circle cx="1461" cy="1365" r="66.0" fill="url(#sgh)"/><circle cx="1461" cy="1365" r="37.949999999999996" fill="url(#sg)"/>
<circle cx="1461" cy="1556" r="68.0" fill="url(#sbh)"/><circle cx="1461" cy="1556" r="39.099999999999994" fill="url(#sb)"/>
<text x="1328.3" y="1140.9" font-size="30.9" fill="#fff">633 nm</text>
<text x="1328.3" y="1305.2" font-size="30.9" fill="#fff">540 nm</text>
<text x="1328.3" y="1478.5" font-size="30.9" fill="#fff">455 nm</text>
<text x="1286" y="1064" font-size="35.5" font-weight="bold">f</text>
<defs><radialGradient id="sph" cx="0.45" cy="0.4" r="0.6"><stop offset="0" stop-color="#ffffff"/><stop offset="0.6" stop-color="#e6eef8"/><stop offset="1" stop-color="#a9c0de"/></radialGradient><filter id="gblur" x="-20%" y="-20%" width="140%" height="140%"><feGaussianBlur stdDeviation="6"/></filter><linearGradient id="alg" x1="0" y1="0" x2="0" y2="1"><stop offset="0" stop-color="#3a3a3a"/><stop offset="0.5" stop-color="#d0d0d0"/><stop offset="1" stop-color="#3a3a3a"/></linearGradient><linearGradient id="alg2" x1="0" y1="0" x2="0" y2="1"><stop offset="0" stop-color="#2e2e2e"/><stop offset="0.3" stop-color="#6a6a6a"/><stop offset="0.55" stop-color="#e0e0e0"/><stop offset="0.8" stop-color="#555"/><stop offset="1" stop-color="#2a2a2a"/></linearGradient></defs><g opacity="1"><polygon points="73,2062 234.5,2116 234.5,2130 73,2076" fill="#c3cfe2"/><polygon points="234.5,2116 397.5,2064 397.5,2078 234.5,2130" fill="#d5e1f2"/><polygon points="73,2062 234.5,2006 397.5,2064 234.5,2116" fill="#dde8f7"/></g>
<g opacity="0.95"><polygon points="73,2000 234.5,2054 234.5,2074 73,2020" fill="#d6d8de"/><polygon points="234.5,2054 397.5,2002 397.5,2022 234.5,2074" fill="#e9ebf0"/><polygon points="73,2000 234.5,1944 397.5,2002 234.5,2054" fill="#f3f4f8"/></g>
<polygon points="110,1985 135,1978 196,2005 195,2010" fill="#7fb0e6"/>
<polygon points="202,2010 260,2026 295,2027 270,2035 200,2016" fill="#6fa4e2"/>
<polygon points="270,1990 300,1996 360,2010 345,2015 300,2008" fill="#7fb0e6"/>
<g opacity="0.95"><polygon points="73,1949 234.5,2003 234.5,2015 73,1961" fill="#a8a8ac"/><polygon points="234.5,2003 397.5,1951 397.5,1963 234.5,2015" fill="#bcbcc0"/><polygon points="73,1949 234.5,1893 397.5,1951 234.5,2003" fill="#c9c9cd"/></g>
<polygon points="180,1960 205,1958 272,1980 250,1985" fill="#9fb4d4" opacity="0.8"/>
<g opacity="0.92"><polygon points="73,1894 234.5,1948 234.5,1960 73,1906" fill="#a9c99a"/><polygon points="234.5,1948 397.5,1896 397.5,1908 234.5,1960" fill="#b9d6a9"/><polygon points="73,1894 234.5,1838 397.5,1896 234.5,1948" fill="#c3dfb3"/></g>
<polygon points="75,1830 234,1780 380,1830 225,1900" fill="#ffffff" filter="url(#gblur)"/>
<circle cx="224" cy="1783.7" r="11.5" fill="url(#sph)" opacity="0.55"/>
<circle cx="243.9" cy="1790.6" r="11.5" fill="url(#sph)" opacity="0.55"/>
<circle cx="204.1" cy="1790.7" r="11.5" fill="url(#sph)" opacity="0.55"/>
<circle cx="263.8" cy="1797.5" r="11.5" fill="url(#sph)" opacity="0.55"/>
<circle cx="224" cy="1797.6" r="11.5" fill="url(#sph)" opacity="0.55"/>
<circle cx="184.2" cy="1797.7" r="11.5" fill="url(#sph)" opacity="0.55"/>
<circle cx="283.7" cy="1804.4" r="11.5" fill="url(#sph)" opacity="0.55"/>
<circle cx="243.9" cy="1804.5" r="11.5" fill="url(#sph)" opacity="0.55"/>
<circle cx="204.1" cy="1804.6" r="11.5" fill="url(#sph)" opacity="0.55"/>
<circle cx="164.3" cy="1804.7" r="11.5" fill="url(#sph)" opacity="0.55"/>
<circle cx="303.6" cy="1811.3" r="11.5" fill="url(#sph)" opacity="0.55"/>
<circle cx="263.8" cy="1811.4" r="11.5" fill="url(#sph)" opacity="0.55"/>
<circle cx="224" cy="1811.5" r="11.5" fill="url(#sph)" opacity="0.55"/>
<circle cx="184.2" cy="1811.6" r="11.5" fill="url(#sph)" opacity="0.55"/>
<circle cx="144.4" cy="1811.7" r="11.5" fill="url(#sph)" opacity="0.55"/>
<circle cx="323.5" cy="1818.2" r="11.5" fill="url(#sph)" opacity="0.55"/>
<circle cx="283.7" cy="1818.3" r="11.5" fill="url(#sph)" opacity="0.55"/>
<circle cx="243.9" cy="1818.4" r="11.5" fill="url(#sph)" opacity="0.55"/>
<circle cx="204.1" cy="1818.5" r="11.5" fill="url(#sph)" opacity="0.55"/>
<circle cx="164.3" cy="1818.6" r="11.5" fill="url(#sph)" opacity="0.55"/>
<circle cx="124.5" cy="1818.7" r="11.5" fill="url(#sph)" opacity="0.55"/>
<circle cx="343.4" cy="1825.1" r="11.5" fill="url(#sph)" opacity="0.55"/>
<circle cx="303.6" cy="1825.2" r="11.5" fill="url(#sph)" opacity="0.55"/>
<circle cx="263.8" cy="1825.3" r="11.5" fill="url(#sph)" opacity="0.55"/>
<circle cx="224" cy="1825.4" r="11.5" fill="url(#sph)" opacity="0.55"/>
<circle cx="184.2" cy="1825.5" r="11.5" fill="url(#sph)" opacity="0.55"/>
<circle cx="144.4" cy="1825.6" r="11.5" fill="url(#sph)" opacity="0.55"/>
<circle cx="104.6" cy="1825.7" r="11.5" fill="url(#sph)" opacity="0.55"/>
<circle cx="323.5" cy="1832.1" r="11.5" fill="url(#sph)" opacity="0.55"/>
<circle cx="283.7" cy="1832.2" r="11.5" fill="url(#sph)" opacity="0.55"/>
<circle cx="243.9" cy="1832.3" r="11.5" fill="url(#sph)" opacity="0.55"/>
<circle cx="204.1" cy="1832.4" r="11.5" fill="url(#sph)" opacity="0.55"/>
<circle cx="164.3" cy="1832.5" r="11.5" fill="url(#sph)" opacity="0.55"/>
<circle cx="124.5" cy="1832.6" r="11.5" fill="url(#sph)" opacity="0.55"/>
<circle cx="303.6" cy="1839.1" r="11.5" fill="url(#sph)" opacity="0.55"/>
<circle cx="263.8" cy="1839.2" r="11.5" fill="url(#sph)" opacity="0.55"/>
<circle cx="224" cy="1839.3" r="11.5" fill="url(#sph)" opacity="0.55"/>
<circle cx="184.2" cy="1839.4" r="11.5" fill="url(#sph)" opacity="0.55"/>
<circle cx="144.4" cy="1839.5" r="11.5" fill="url(#sph)" opacity="0.55"/>
<circle cx="283.7" cy="1846.1" r="11.5" fill="url(#sph)" opacity="0.55"/>
<circle cx="243.9" cy="1846.2" r="11.5" fill="url(#sph)" opacity="0.55"/>
<circle cx="204.1" cy="1846.3" r="11.5" fill="url(#sph)" opacity="0.55"/>
<circle cx="164.3" cy="1846.4" r="11.5" fill="url(#sph)" opacity="0.55"/>
<circle cx="263.8" cy="1853.1" r="11.5" fill="url(#sph)" opacity="0.55"/>
<circle cx="224" cy="1853.2" r="11.5" fill="url(#sph)" opacity="0.55"/>
<circle cx="184.2" cy="1853.3" r="11.5" fill="url(#sph)" opacity="0.55"/>
<circle cx="243.9" cy="1860.1" r="11.5" fill="url(#sph)" opacity="0.55"/>
<circle cx="204.1" cy="1860.2" r="11.5" fill="url(#sph)" opacity="0.55"/>
<circle cx="224" cy="1867.1" r="11.5" fill="url(#sph)" opacity="0.55"/>
<polygon points="95,1825 224,1770 355,1825 224,1870" fill="#ffffff" opacity="0.55" filter="url(#gblur)"/>
<circle cx="363.3" cy="1832" r="11.5" fill="url(#sph)"/>
<circle cx="84.7" cy="1832.7" r="11.5" fill="url(#sph)"/>
<circle cx="343.4" cy="1839" r="11.5" fill="url(#sph)"/>
<circle cx="104.6" cy="1839.6" r="11.5" fill="url(#sph)"/>
<circle cx="323.5" cy="1846" r="11.5" fill="url(#sph)"/>
<circle cx="124.5" cy="1846.5" r="11.5" fill="url(#sph)"/>
<circle cx="303.6" cy="1853" r="11.5" fill="url(#sph)"/>
<circle cx="144.4" cy="1853.4" r="11.5" fill="url(#sph)"/>
<circle cx="283.7" cy="1860" r="11.5" fill="url(#sph)"/>
<circle cx="164.3" cy="1860.3" r="11.5" fill="url(#sph)"/>
<circle cx="263.8" cy="1867" r="11.5" fill="url(#sph)"/>
<circle cx="184.2" cy="1867.2" r="11.5" fill="url(#sph)"/>
<circle cx="243.9" cy="1874" r="11.5" fill="url(#sph)"/>
<circle cx="204.1" cy="1874.1" r="11.5" fill="url(#sph)"/>
<circle cx="224" cy="1881" r="11.5" fill="url(#sph)"/>
<g opacity="1"><polygon points="73,1767 234.5,1821 234.5,1833 73,1779" fill="#d9d1cd"/><polygon points="234.5,1821 397.5,1769 397.5,1781 234.5,1833" fill="#eae2de"/><polygon points="73,1767 234.5,1711 397.5,1769 234.5,1821" fill="#f5ede7"/></g>
<g transform="translate(117,1779) rotate(-16.5)"><rect x="0" y="-4.5" width="182.6" height="9" fill="url(#alg2)"/></g>
<g transform="translate(177,1804) rotate(-16.5)"><rect x="0" y="-4.5" width="182.6" height="9" fill="url(#alg2)"/></g>
<line x1="236" y1="1738.2" x2="478.5" y2="1738.2" stroke="#111" stroke-width="1.4"/>
<text x="483.7" y="1745.7" font-size="20.4">Al</text>
<line x1="296" y1="1783" x2="401" y2="1783" stroke="#111" stroke-width="1.4"/>
<text x="407" y="1787.5" font-size="20.4">MgZnO NPs</text>
<line x1="284" y1="1843.5" x2="417.7" y2="1843.5" stroke="#111" stroke-width="1.4"/>
<text x="429.5" y="1847.4" font-size="20.4">CGS/ZnS</text>
<line x1="324" y1="1898.2" x2="458.6" y2="1898.2" stroke="#111" stroke-width="1.4"/>
<text x="464.6" y="1903.5" font-size="20.4">PVK</text>
<line x1="311" y1="1956" x2="396" y2="1956" stroke="#111" stroke-width="1.4"/>
<text x="403.8" y="1962.5" font-size="20.4">PEDOT:PSS</text>
<line x1="292" y1="2012.3" x2="384" y2="2012.3" stroke="#111" stroke-width="1.4"/>
<text x="393.9" y="2018.3" font-size="20.4">Patterned ITO</text>
<line x1="292" y1="2075.1" x2="390.7" y2="2075.1" stroke="#111" stroke-width="1.4"/>
<text x="398.3" y="2081.5" font-size="20.4">Liquid Crystal</text>
<text x="37.5" y="1701" font-size="36" font-weight="bold">g</text>
<defs><linearGradient id="hito" x1="0" y1="0" x2="0" y2="1"><stop offset="0" stop-color="#b9cdea"/><stop offset="1" stop-color="#dde7f5"/></linearGradient><linearGradient id="hped" x1="0" y1="0" x2="0" y2="1"><stop offset="0" stop-color="#b8b8b8"/><stop offset="0.5" stop-color="#909090"/><stop offset="1" stop-color="#d8d8d8"/></linearGradient><linearGradient id="hal" x1="0" y1="0" x2="0" y2="1"><stop offset="0" stop-color="#707070"/><stop offset="0.5" stop-color="#3a3a3a"/><stop offset="1" stop-color="#b0b0b0"/></linearGradient><linearGradient id="hpvk" x1="0" y1="0" x2="0" y2="1"><stop offset="0" stop-color="#b9dcaa"/><stop offset="1" stop-color="#f4f9f2"/></linearGradient><linearGradient id="hmg" x1="0" y1="0" x2="0" y2="1"><stop offset="0" stop-color="#f8dcc8"/><stop offset="1" stop-color="#fcf1ea"/></linearGradient><radialGradient id="hsph" cx="0.42" cy="0.38" r="0.62"><stop offset="0" stop-color="#f4f8fc"/><stop offset="0.6" stop-color="#d8e4f0"/><stop offset="1" stop-color="#a6bcd6"/></radialGradient></defs><rect x="572.5" y="1742" width="610" height="383" fill="none" stroke="#111" stroke-width="2.5"/>
<rect x="582" y="1965" width="95" height="9.5" fill="url(#hito)"/>
<rect x="689" y="1977" width="94" height="9.5" fill="url(#hped)"/>
<rect x="795.5" y="1820" width="94" height="184.5" fill="url(#hpvk)"/>
<rect x="971.5" y="1897.5" width="94" height="173" fill="url(#hmg)"/>
<rect x="1079" y="1897" width="94" height="9.5" fill="url(#hal)"/>
<circle cx="915.7" cy="1860" r="12.6" fill="url(#hsph)"/>
<circle cx="915.7" cy="1892.7" r="12.6" fill="url(#hsph)"/>
<circle cx="915.7" cy="1923.5" r="12.6" fill="url(#hsph)"/>
<circle cx="915.7" cy="1955" r="12.6" fill="url(#hsph)"/>
<circle cx="915.7" cy="1987.4" r="12.6" fill="url(#hsph)"/>
<circle cx="946.4" cy="1860" r="12.6" fill="url(#hsph)"/>
<circle cx="946.4" cy="1892.7" r="12.6" fill="url(#hsph)"/>
<circle cx="946.4" cy="1923.5" r="12.6" fill="url(#hsph)"/>
<circle cx="946.4" cy="1955" r="12.6" fill="url(#hsph)"/>
<circle cx="946.4" cy="1987.4" r="12.6" fill="url(#hsph)"/>
<text transform="translate(636.7,1948.4) rotate(-90)" font-size="23.6">ITO</text>
<text transform="translate(740.2,1951.4) rotate(-90)" font-size="23.6">PEDOT : PSS</text>
<text transform="translate(852.3,1938.3) rotate(-90)" font-size="23.6">PVK</text>
<text transform="translate(937.5,1976.9) rotate(-90)" font-size="23.6">CGS/ZnS</text>
<text transform="translate(1024.9,2023.8) rotate(-90)" font-size="23.6">MgZnO</text>
<text transform="translate(1133.8,1869.8) rotate(-90)" font-size="23.6">Al</text>
<text x="567" y="1701.5" font-size="35.5" font-weight="bold">h</text>
<defs><clipPath id="clipI"><rect x="1209" y="1739" width="400" height="386"/></clipPath><linearGradient id="ibg" x1="0" y1="0" x2="0" y2="1"><stop offset="0" stop-color="#2c312b"/><stop offset="0.4" stop-color="#363a31"/><stop offset="1" stop-color="#44453a"/></linearGradient><filter id="iblur" x="-20%" y="-20%" width="140%" height="140%"><feGaussianBlur stdDeviation="4"/></filter><filter id="iblur2" x="-50%" y="-50%" width="200%" height="200%"><feGaussianBlur stdDeviation="2"/></filter><filter id="iblur20" x="-50%" y="-50%" width="200%" height="200%"><feGaussianBlur stdDeviation="25"/></filter><clipPath id="clipCirc"><circle cx="1410" cy="1927" r="126"/></clipPath><linearGradient id="iteal" x1="0" y1="0" x2="1" y2="1"><stop offset="0" stop-color="#1a5064"/><stop offset="0.6" stop-color="#124048"/><stop offset="1" stop-color="#0f3a3e"/></linearGradient></defs><g clip-path="url(#clipI)">
<rect x="1209" y="1739" width="400" height="386" fill="url(#ibg)"/>
<g filter="url(#iblur20)">
<rect x="1209" y="1930" width="180" height="200" fill="#4e4f38"/>
<rect x="1480" y="1900" width="140" height="230" fill="#3c423d"/>
<rect x="1209" y="1739" width="400" height="60" fill="#2a2f2a"/>
</g>
<rect x="1470" y="2000" width="8" height="125" fill="#4a4e46" opacity="0.6" filter="url(#iblur2)"/>
<g filter="url(#iblur)">
<circle cx="1410" cy="1927" r="127" fill="#040606"/>
<g clip-path="url(#clipCirc)">
<rect x="1308" y="1853" width="232" height="112" fill="url(#iteal)"/>
<path d="M1285,1968 Q1400,1958 1540,1962 L1540,1996 Q1400,2000 1285,1994 Z" fill="#56664c"/>
<rect x="1300" y="1996" width="240" height="20" fill="#0c1820"/>
</g></g>
<rect x="1345" y="1849" width="56" height="60" rx="9" fill="#3a78c8" opacity="0.7" filter="url(#iblur)"/>
<rect x="1349" y="1853" width="48" height="52" rx="8" fill="#dadada" filter="url(#iblur2)"/>
</g>
<rect x="1507" y="2109.5" width="93" height="3.5" fill="#fff"/>
<text x="1183" y="1701.5" font-size="35.5" font-weight="bold">i</text>
</svg></body></html>
